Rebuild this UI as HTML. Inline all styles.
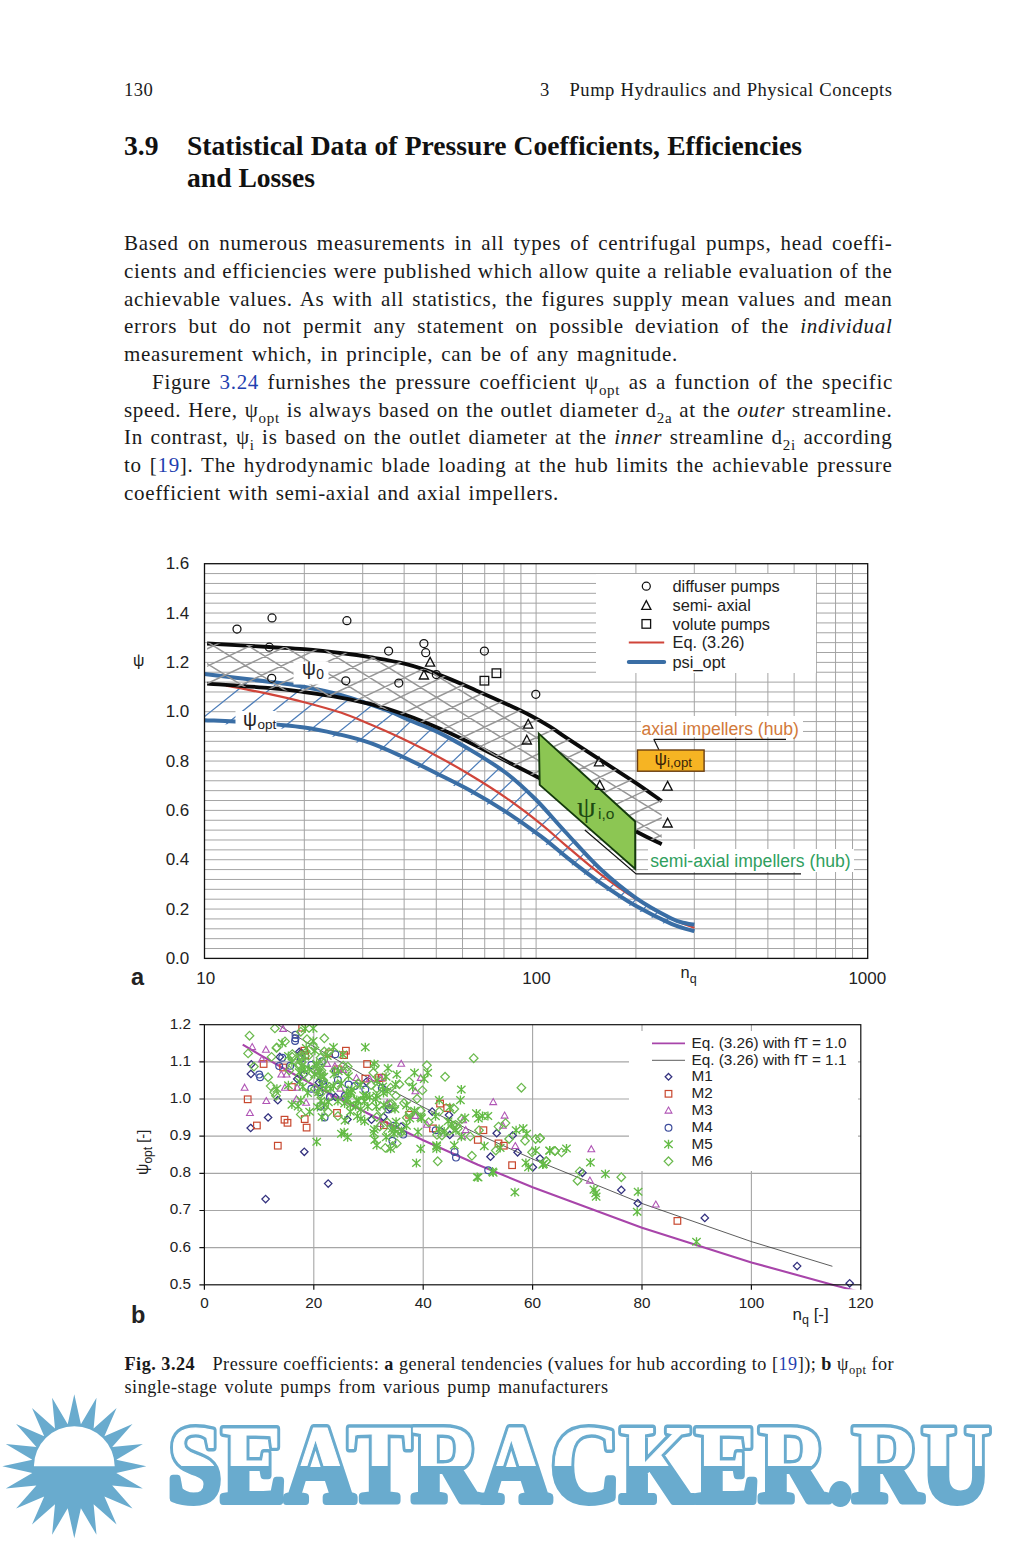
<!DOCTYPE html>
<html><head><meta charset="utf-8">
<style>
html,body{margin:0;padding:0;background:#fff;}
body{width:1018px;height:1541px;position:relative;overflow:hidden;font-family:"Liberation Serif",serif;color:#1a1a1a;}
.l{position:absolute;left:124px;width:768.5px;letter-spacing:0.7px;height:28px;line-height:28px;font-size:21px;white-space:nowrap;text-align:justify;text-align-last:justify;}
.l.n{text-align:left;text-align-last:left;}
.hd{position:absolute;letter-spacing:0.5px;font-size:18.6px;line-height:24px;white-space:nowrap;}
.h1{position:absolute;font-size:27.6px;font-weight:bold;line-height:32px;white-space:nowrap;color:#111;}
.cap{position:absolute;left:124.5px;letter-spacing:0.5px;font-size:18.2px;line-height:24px;white-space:nowrap;}
sub.s{font-size:15px;vertical-align:baseline;position:relative;top:5.5px;line-height:0;}
a.b{color:#1f3fb0;text-decoration:none;}
i{font-style:italic;}
svg{position:absolute;left:0;top:0;}
svg text{font-family:"Liberation Sans",sans-serif;}
</style></head><body>
<div class="hd" style="left:124px;top:78px;">130</div>
<div class="hd" style="left:540px;top:78px;">3</div>
<div class="hd" style="left:569.5px;top:78px;width:323px;text-align:justify;text-align-last:justify;">Pump Hydraulics and Physical Concepts</div>
<div class="h1" style="left:124px;top:130px;">3.9</div>
<div class="h1" style="left:187px;top:130px;width:615px;text-align:justify;text-align-last:justify;">Statistical Data of Pressure Coefficients, Efficiencies</div>
<div class="h1" style="left:187px;top:162px;">and Losses</div>

<div class="l" style="top:229px;">Based on numerous measurements in all types of centrifugal pumps, head coeffi-</div>
<div class="l" style="top:257px;">cients and efficiencies were published which allow quite a reliable evaluation of the</div>
<div class="l" style="top:285px;">achievable values. As with all statistics, the figures supply mean values and mean</div>
<div class="l" style="top:312px;">errors but do not permit any statement on possible deviation of the <i>individual</i></div>
<div class="l" style="top:340px;width:554px;">measurement which, in principle, can be of any magnitude.</div>
<div class="l" style="top:368px;left:152px;width:741px;">Figure <a class="b">3.24</a> furnishes the pressure coefficient ψ<sub class="s">opt</sub> as a function of the specific</div>
<div class="l" style="top:396px;">speed. Here, ψ<sub class="s">opt</sub> is always based on the outlet diameter d<sub class="s">2a</sub> at the <i>outer</i> streamline.</div>
<div class="l" style="top:423px;">In contrast, ψ<sub class="s">i</sub> is based on the outlet diameter at the <i>inner</i> streamline d<sub class="s">2i</sub> according</div>
<div class="l" style="top:451px;">to [<a class="b">19</a>]. The hydrodynamic blade loading at the hub limits the achievable pressure</div>
<div class="l" style="top:479px;width:435px;">coefficient with semi-axial and axial impellers.</div>

<svg width="1018" height="1541" viewBox="0 0 1018 1541">
<path d="M204.5,573.57H867.7M204.5,583.44H867.7M204.5,593.30H867.7M204.5,603.17H867.7M204.5,613.04H867.7M204.5,622.91H867.7M204.5,632.77H867.7M204.5,642.64H867.7M204.5,652.51H867.7M204.5,662.38H867.7M204.5,672.24H867.7M204.5,682.11H867.7M204.5,691.98H867.7M204.5,701.85H867.7M204.5,711.71H867.7M204.5,721.58H867.7M204.5,731.45H867.7M204.5,741.32H867.7M204.5,751.18H867.7M204.5,761.05H867.7M204.5,770.92H867.7M204.5,780.78H867.7M204.5,790.65H867.7M204.5,800.52H867.7M204.5,810.39H867.7M204.5,820.25H867.7M204.5,830.12H867.7M204.5,839.99H867.7M204.5,849.86H867.7M204.5,859.73H867.7M204.5,869.59H867.7M204.5,879.46H867.7M204.5,889.33H867.7M204.5,899.19H867.7M204.5,909.06H867.7M204.5,918.93H867.7M204.5,928.80H867.7M204.5,938.66H867.7M204.5,948.53H867.7M304.32,563.7V958.4M362.71,563.7V958.4M404.14,563.7V958.4M436.28,563.7V958.4M462.53,563.7V958.4M484.73,563.7V958.4M503.96,563.7V958.4M520.93,563.7V958.4M635.92,563.7V958.4M694.31,563.7V958.4M735.74,563.7V958.4M767.88,563.7V958.4M794.13,563.7V958.4M816.33,563.7V958.4M835.56,563.7V958.4M852.53,563.7V958.4M536.10,563.7V958.4" stroke="#a4a4a4" stroke-width="1" fill="none"/>
<defs><clipPath id="cb"><path d="M207.1,642.8 C217.4,643.4 252.8,645.3 269.0,646.3 C285.2,647.2 291.7,647.4 304.3,648.5 C316.9,649.6 333.8,651.5 344.7,652.8 C355.6,654.1 359.9,654.8 370.0,656.5 C380.1,658.2 393.6,660.2 405.4,663.2 C417.2,666.2 428.9,670.3 440.7,674.7 C452.5,679.1 464.3,684.5 476.1,689.7 C487.9,694.8 502.4,701.4 511.4,705.6 C520.4,709.7 523.6,711.2 530.0,714.6 C536.4,718.0 544.1,722.3 550.0,725.9 C555.9,729.5 556.9,730.8 565.4,736.4 C573.9,742.0 588.9,751.7 600.7,759.4 C612.5,767.1 625.9,775.6 636.1,782.4 C646.3,789.2 657.4,797.4 661.7,800.4 L661.7,844.9 L635.2,831.7 L580.0,801.2 L539.7,779.0 L511.4,764.5 L476.1,746.4 L440.7,729.7 L405.4,715.5 L370.0,704.6 L341.4,698.5 L304.3,692.8 L270.7,688.8 L207.1,684.3Z"/></clipPath>
<clipPath id="cbl"><path d="M204.4,673.9 C215.4,675.2 254.0,679.8 270.7,681.9 C287.3,684.0 292.5,684.6 304.3,686.8 C316.1,689.0 327.5,691.1 341.4,695.1 C355.3,699.1 376.5,706.6 387.7,710.7 C398.9,714.9 400.9,716.6 408.8,720.0 C416.8,723.4 425.1,725.9 435.4,730.9 C445.7,735.9 458.9,743.1 470.7,750.1 C482.5,757.1 495.3,764.9 506.1,773.0 C516.9,781.1 525.4,789.2 535.3,799.0 C545.2,808.8 554.5,820.3 565.4,832.0 C576.3,843.7 588.9,858.3 600.7,869.3 C612.5,880.3 624.3,889.9 636.1,898.1 C647.9,906.3 663.1,914.3 671.4,918.5 C679.6,922.7 681.8,922.3 685.6,923.3 C689.4,924.3 692.9,924.4 694.4,924.6 L692.9,934.2 L669.9,926.8 L634.6,909.1 L599.2,886.1 L566.5,861.3 L539.9,839.7 L504.6,814.9 L469.2,793.7 L433.9,775.7 L398.5,758.5 L368.5,745.8 L339.9,737.9 L302.8,730.5 L248.5,725.5 L204.5,723.2Z"/></clipPath></defs>
<g clip-path="url(#cbl)"><path d="M154.0,975.7L274.0,879.7M180.0,736.2L300.0,640.2M205.0,741.2L325.0,645.2M229.0,746.6L349.0,650.6M252.1,752.4L372.1,656.4M274.3,758.8L394.3,662.8M295.6,766.5L415.6,670.5M316.1,774.9L436.1,678.9M335.8,792.6L455.8,678.6M354.7,801.9L474.7,687.9M372.9,811.0L492.9,697.0M390.4,820.7L510.4,706.7M407.2,830.2L527.2,716.2M423.4,840.3L543.4,726.3M438.9,850.2L558.9,736.2M453.9,860.6L573.9,746.6M468.2,871.4L588.2,757.4M482.0,881.8L602.0,767.8M495.3,893.3L615.3,779.3M508.0,904.2L628.0,790.2M520.2,914.4L640.2,800.4M532.0,924.1L652.0,810.1M543.3,933.1L663.3,819.1M554.3,940.8L674.3,826.8M565.3,948.5L685.3,834.5M576.3,956.1L696.3,842.1M587.3,962.3L707.3,848.3M598.3,968.5L718.3,854.5M609.3,974.6L729.3,860.6" stroke="#4f7fba" stroke-width="1.25" fill="none"/></g>
<path d="M226.0,685.6 C228.3,686.0 232.6,686.8 240.0,688.2 C247.4,689.7 260.0,692.0 270.7,694.3 C281.4,696.6 292.5,699.1 304.3,702.2 C316.1,705.3 330.4,709.1 341.4,712.8 C352.3,716.5 360.2,720.1 370.0,724.2 C379.8,728.3 389.1,732.3 400.0,737.5 C410.9,742.7 423.6,748.9 435.4,755.2 C447.2,761.5 458.9,768.1 470.7,775.2 C482.5,782.3 494.3,789.6 506.1,797.8 C517.9,806.0 531.5,816.4 541.4,824.3 C551.3,832.2 555.5,836.8 565.4,845.1 C575.3,853.4 588.9,865.3 600.7,874.3 C612.5,883.3 624.3,891.6 636.1,899.0 C647.9,906.4 661.7,914.0 671.4,918.8 C681.1,923.6 690.6,926.2 694.4,927.7" stroke="#d0453a" stroke-width="2.2" fill="none"/>
<path d="M204.4,673.9 C215.4,675.2 254.0,679.8 270.7,681.9 C287.3,684.0 292.5,684.6 304.3,686.8 C316.1,689.0 327.5,691.1 341.4,695.1 C355.3,699.1 376.5,706.6 387.7,710.7 C398.9,714.9 400.9,716.6 408.8,720.0 C416.8,723.4 425.1,725.9 435.4,730.9 C445.7,735.9 458.9,743.1 470.7,750.1 C482.5,757.1 495.3,764.9 506.1,773.0 C516.9,781.1 525.4,789.2 535.3,799.0 C545.2,808.8 554.5,820.3 565.4,832.0 C576.3,843.7 588.9,858.3 600.7,869.3 C612.5,880.3 624.3,889.9 636.1,898.1 C647.9,906.3 663.1,914.3 671.4,918.5 C679.6,922.7 681.8,922.3 685.6,923.3 C689.4,924.3 692.9,924.4 694.4,924.6" stroke="#3a6ea5" stroke-width="4.0" fill="none"/>
<path d="M204.4,720.2 C212.0,720.6 233.3,721.3 250.0,722.5 C266.6,723.7 289.1,725.4 304.3,727.5 C319.5,729.6 330.4,732.4 341.4,734.9 C352.3,737.4 360.2,739.4 370.0,742.8 C379.8,746.2 389.1,750.5 400.0,755.5 C410.9,760.5 423.6,766.8 435.4,772.7 C447.2,778.6 458.9,784.2 470.7,790.7 C482.5,797.2 494.3,804.2 506.1,811.9 C517.9,819.6 531.1,829.0 541.4,836.7 C551.7,844.4 558.1,850.6 568.0,858.3 C577.9,866.0 589.4,875.1 600.7,883.1 C612.1,891.1 624.3,899.3 636.1,906.1 C647.9,912.9 661.7,919.6 671.4,923.8 C681.1,928.0 690.6,930.0 694.4,931.2" stroke="#3a6ea5" stroke-width="4.0" fill="none"/>
<path d="M207.1,683.6 C217.7,684.4 254.5,686.7 270.7,688.1 C286.9,689.5 292.5,690.5 304.3,692.1 C316.1,693.7 330.4,695.8 341.4,697.8 C352.3,699.8 359.3,701.1 370.0,703.9 C380.7,706.7 393.6,710.6 405.4,714.8 C417.2,719.0 428.9,723.9 440.7,729.0 C452.5,734.1 464.3,739.9 476.1,745.7 C487.9,751.5 500.8,758.4 511.4,763.8 C522.0,769.2 528.3,772.2 539.7,778.3 C551.1,784.4 564.1,791.7 580.0,800.5 C595.9,809.3 621.6,823.7 635.2,831.0 C648.8,838.3 657.3,842.0 661.7,844.2" stroke="#0a0a0a" stroke-width="3.8" fill="none"/>
<path d="M207.1,643.5 C217.4,644.1 252.8,646.0 269.0,647.0 C285.2,648.0 291.7,648.1 304.3,649.2 C316.9,650.3 333.8,652.2 344.7,653.5 C355.6,654.8 359.9,655.5 370.0,657.2 C380.1,658.9 393.6,660.9 405.4,663.9 C417.2,666.9 428.9,671.0 440.7,675.4 C452.5,679.8 464.3,685.2 476.1,690.4 C487.9,695.5 502.4,702.1 511.4,706.3 C520.4,710.4 523.6,711.9 530.0,715.3 C536.4,718.7 544.1,723.0 550.0,726.6 C555.9,730.2 556.9,731.5 565.4,737.1 C573.9,742.7 588.9,752.4 600.7,760.1 C612.5,767.8 625.9,776.3 636.1,783.1 C646.3,789.9 657.4,798.1 661.7,801.1" stroke="#0a0a0a" stroke-width="3.8" fill="none"/>
<g clip-path="url(#cb)"><path d="M-100.0,560.0L545.2,960.0M-65.0,560.0L580.2,960.0M-30.0,560.0L615.2,960.0M5.0,560.0L650.2,960.0M40.0,560.0L685.2,960.0M75.0,560.0L720.2,960.0M110.0,560.0L755.2,960.0M145.0,560.0L790.2,960.0M180.0,560.0L825.2,960.0M215.0,560.0L860.2,960.0M250.0,560.0L895.2,960.0M285.0,560.0L930.2,960.0M320.0,560.0L965.2,960.0M355.0,560.0L1000.2,960.0M390.0,560.0L1035.2,960.0M425.0,560.0L1070.2,960.0M460.0,560.0L1105.2,960.0M495.0,560.0L1140.2,960.0M530.0,560.0L1175.2,960.0M565.0,560.0L1210.2,960.0M600.0,560.0L1245.2,960.0M635.0,560.0L1280.2,960.0M670.0,560.0L1315.2,960.0M100.0,560.0L-751.1,960.0M137.0,560.0L-714.1,960.0M174.0,560.0L-677.1,960.0M211.0,560.0L-640.1,960.0M248.0,560.0L-603.1,960.0M285.0,560.0L-566.1,960.0M322.0,560.0L-529.1,960.0M359.0,560.0L-492.1,960.0M396.0,560.0L-455.1,960.0M433.0,560.0L-418.1,960.0M470.0,560.0L-381.1,960.0M507.0,560.0L-344.1,960.0M544.0,560.0L-307.1,960.0M581.0,560.0L-270.1,960.0M618.0,560.0L-233.1,960.0M655.0,560.0L-196.1,960.0M692.0,560.0L-159.1,960.0M729.0,560.0L-122.1,960.0M766.0,560.0L-85.1,960.0M803.0,560.0L-48.1,960.0M840.0,560.0L-11.1,960.0M877.0,560.0L25.9,960.0M914.0,560.0L62.9,960.0M951.0,560.0L99.9,960.0M988.0,560.0L136.9,960.0M1025.0,560.0L173.9,960.0M1062.0,560.0L210.9,960.0M1099.0,560.0L247.9,960.0M1136.0,560.0L284.9,960.0M1173.0,560.0L321.9,960.0M1210.0,560.0L358.9,960.0M1247.0,560.0L395.9,960.0M1284.0,560.0L432.9,960.0M1321.0,560.0L469.9,960.0M1358.0,560.0L506.9,960.0M1395.0,560.0L543.9,960.0M1432.0,560.0L580.9,960.0M1469.0,560.0L617.9,960.0" stroke="#979797" stroke-width="1.5" fill="none"/></g>
<path d="M538.8,733.6L635.2,821.5L635.2,869L539.7,784.9Z" fill="#8cc653" stroke="#143a0c" stroke-width="1.9" stroke-linejoin="miter"/>
<path d="M584.8,830L636.1,873.9H801" stroke="#111" stroke-width="1.2" fill="none"/>
<rect x="204.5" y="563.7" width="663.2" height="394.7" fill="none" stroke="#111" stroke-width="1.3"/>
<rect x="596" y="574" width="220" height="99" fill="#fff"/>
<rect x="293.5" y="661.5" width="35" height="23" fill="#fff"/>
<rect x="235.5" y="711" width="41" height="20" fill="#fff"/>
<rect x="641" y="716" width="162" height="21" fill="#fff"/>
<rect x="648" y="849" width="206" height="23" fill="#fff"/>
<path d="M653.8,739.2L659,750" stroke="#111" stroke-width="1.2"/>
<path d="M653.8,739.4H786" stroke="#111" stroke-width="1.2"/>
<rect x="637.5" y="750" width="66.6" height="21.2" fill="#f6b423" stroke="#6b3d10" stroke-width="1.4"/>
<circle cx="237.0" cy="629.0" r="4.0" fill="none" stroke="#111" stroke-width="1.25"/>
<circle cx="272.0" cy="617.9" r="4.0" fill="none" stroke="#111" stroke-width="1.25"/>
<circle cx="346.9" cy="620.7" r="4.0" fill="none" stroke="#111" stroke-width="1.25"/>
<circle cx="269.3" cy="647.2" r="4.0" fill="none" stroke="#111" stroke-width="1.25"/>
<circle cx="271.7" cy="678.3" r="4.0" fill="none" stroke="#111" stroke-width="1.25"/>
<circle cx="345.8" cy="680.8" r="4.0" fill="none" stroke="#111" stroke-width="1.25"/>
<circle cx="388.6" cy="651.0" r="4.0" fill="none" stroke="#111" stroke-width="1.25"/>
<circle cx="398.8" cy="683.0" r="4.0" fill="none" stroke="#111" stroke-width="1.25"/>
<circle cx="423.9" cy="643.5" r="4.0" fill="none" stroke="#111" stroke-width="1.25"/>
<circle cx="425.7" cy="652.7" r="4.0" fill="none" stroke="#111" stroke-width="1.25"/>
<circle cx="436.3" cy="674.5" r="4.0" fill="none" stroke="#111" stroke-width="1.25"/>
<circle cx="484.4" cy="651.0" r="4.0" fill="none" stroke="#111" stroke-width="1.25"/>
<circle cx="535.8" cy="694.3" r="4.0" fill="none" stroke="#111" stroke-width="1.25"/>
<path d="M430.1,657.4L434.7,666.2L425.5,666.2Z" fill="none" stroke="#111" stroke-width="1.3"/>
<path d="M423.9,670.2L428.5,679.0L419.3,679.0Z" fill="none" stroke="#111" stroke-width="1.3"/>
<path d="M528.2,719.3L532.8,728.1L523.6,728.1Z" fill="none" stroke="#111" stroke-width="1.3"/>
<path d="M526.8,735.2L531.4,744.0L522.2,744.0Z" fill="none" stroke="#111" stroke-width="1.3"/>
<path d="M599.0,757.0L603.6,765.8L594.4,765.8Z" fill="none" stroke="#111" stroke-width="1.3"/>
<path d="M599.8,780.5L604.4,789.3L595.2,789.3Z" fill="none" stroke="#111" stroke-width="1.3"/>
<path d="M667.6,781.4L672.2,790.2L663.0,790.2Z" fill="none" stroke="#111" stroke-width="1.3"/>
<path d="M667.6,818.2L672.2,827.0L663.0,827.0Z" fill="none" stroke="#111" stroke-width="1.3"/>
<rect x="492.1" y="668.9" width="8.6" height="8.6" fill="none" stroke="#111" stroke-width="1.3"/>
<rect x="480.1" y="676.4" width="8.6" height="8.6" fill="none" stroke="#111" stroke-width="1.3"/>
<circle cx="646.3" cy="586.2" r="4.0" fill="none" stroke="#111" stroke-width="1.25"/>
<path d="M646.3,600.6L650.9,609.4L641.7,609.4Z" fill="none" stroke="#111" stroke-width="1.3"/>
<rect x="642.0" y="619.6" width="8.6" height="8.6" fill="none" stroke="#111" stroke-width="1.3"/>
<path d="M628.8,642.6H664.2" stroke="#d0453a" stroke-width="2"/>
<path d="M628.8,662H664.2" stroke="#3a6ea5" stroke-width="4" stroke-linecap="round"/>
<text x="672.5" y="591.8" font-size="16.4" fill="#222">diffuser pumps</text>
<text x="672.5" y="610.8" font-size="16.4" fill="#222">semi- axial</text>
<text x="672.5" y="629.5" font-size="16.4" fill="#222">volute pumps</text>
<text x="672.5" y="648.2" font-size="16.4" fill="#222">Eq. (3.26)</text>
<text x="672.5" y="667.6" font-size="16.4" fill="#222">psi_opt</text>
<text x="189.3" y="569.3" font-size="17" text-anchor="end" fill="#222">1.6</text>
<text x="189.3" y="618.6" font-size="17" text-anchor="end" fill="#222">1.4</text>
<text x="189.3" y="668.0" font-size="17" text-anchor="end" fill="#222">1.2</text>
<text x="189.3" y="717.3" font-size="17" text-anchor="end" fill="#222">1.0</text>
<text x="189.3" y="766.6" font-size="17" text-anchor="end" fill="#222">0.8</text>
<text x="189.3" y="816.0" font-size="17" text-anchor="end" fill="#222">0.6</text>
<text x="189.3" y="865.3" font-size="17" text-anchor="end" fill="#222">0.4</text>
<text x="189.3" y="914.7" font-size="17" text-anchor="end" fill="#222">0.2</text>
<text x="189.3" y="964.0" font-size="17" text-anchor="end" fill="#222">0.0</text>
<text x="205.7" y="984.3" font-size="17" text-anchor="middle" fill="#222">10</text>
<text x="536.5" y="984.3" font-size="17" text-anchor="middle" fill="#222">100</text>
<text x="867.3" y="984.3" font-size="17" text-anchor="middle" fill="#222">1000</text>
<text x="133" y="666" font-size="16" fill="#222">ψ</text>
<text x="131" y="984.5" font-size="23.5" font-weight="bold" fill="#222">a</text>
<text x="680.5" y="978" font-size="16.4" fill="#222">n<tspan dy="5" font-size="12.5">q</tspan></text>
<text x="302" y="675.4" font-size="19.5" fill="#222">ψ<tspan dy="4" font-size="13.8" dx="0.3">0</tspan></text>
<text x="243" y="726.3" font-size="19.5" fill="#222">ψ<tspan dy="3" font-size="13.5" dx="0.5">opt</tspan></text>
<text x="641.5" y="735" font-size="17.6" fill="#d2793a">axial impellers (hub)</text>
<text x="650.2" y="866.5" font-size="17.6" fill="#2fa05e">semi-axial impellers (hub)</text>
<text x="654.5" y="764.5" font-size="17.5" fill="#3a2408">ψ<tspan dy="2.5" font-size="13.2">i,opt</tspan></text>
<text x="577" y="817" font-size="30" fill="#1d4a12" style="font-family:'Liberation Serif',serif">ψ</text>
<text x="598" y="819" font-size="15.5" fill="#1d4a12">i,o</text>
</svg>
<svg width="1018" height="1541" viewBox="0 0 1018 1541">
<path d="M204.4,1061.86H860.8M204.4,1099.01H860.8M204.4,1136.17H860.8M204.4,1173.33H860.8M204.4,1210.49H860.8M204.4,1247.64H860.8M313.80,1024.7V1284.8M423.20,1024.7V1284.8M532.60,1024.7V1284.8M642.00,1024.7V1284.8M751.40,1024.7V1284.8" stroke="#a6a6a6" stroke-width="1.1" fill="none"/>
<defs><clipPath id="cpb"><rect x="204.4" y="1024.2" width="659.4" height="265.1"/></clipPath></defs>
<rect x="629" y="1031" width="229" height="140" fill="#fff"/>
<g clip-path="url(#cpb)">
<polyline points="242.7,1002.0 259.1,1012.7 281.0,1026.6 313.8,1046.6 368.5,1078.0 423.2,1107.1 477.9,1134.1 532.6,1159.0 642.0,1203.5 751.4,1241.6 832.4,1266.3" fill="none" stroke="#333" stroke-width="0.8"/>
<polyline points="242.7,1044.6 259.1,1054.3 286.4,1070.0 313.8,1085.2 341.1,1099.7 368.5,1113.7 423.2,1140.2 477.9,1164.7 532.6,1187.3 642.0,1227.8 751.4,1262.4 832.4,1284.8 860.8,1292.1" fill="none" stroke="#a845aa" stroke-width="2.1" stroke-linejoin="round"/>
<path d="M251.3,1060.6l3.7,3.7l-3.7,3.7l-3.7,-3.7z" fill="none" stroke="#34327f" stroke-width="1.3"/>
<path d="M250.9,1070.2l3.7,3.7l-3.7,3.7l-3.7,-3.7z" fill="none" stroke="#34327f" stroke-width="1.3"/>
<path d="M268.1,1113.8l3.7,3.7l-3.7,3.7l-3.7,-3.7z" fill="none" stroke="#34327f" stroke-width="1.3"/>
<path d="M250.7,1124.3l3.7,3.7l-3.7,3.7l-3.7,-3.7z" fill="none" stroke="#34327f" stroke-width="1.3"/>
<path d="M304.3,1148.1l3.7,3.7l-3.7,3.7l-3.7,-3.7z" fill="none" stroke="#34327f" stroke-width="1.3"/>
<path d="M277.8,1096.5l3.7,3.7l-3.7,3.7l-3.7,-3.7z" fill="none" stroke="#34327f" stroke-width="1.3"/>
<path d="M297.2,1075.3l3.7,3.7l-3.7,3.7l-3.7,-3.7z" fill="none" stroke="#34327f" stroke-width="1.3"/>
<path d="M335.3,1093.3l3.7,3.7l-3.7,3.7l-3.7,-3.7z" fill="none" stroke="#34327f" stroke-width="1.3"/>
<path d="M371.5,1116.0l3.7,3.7l-3.7,3.7l-3.7,-3.7z" fill="none" stroke="#34327f" stroke-width="1.3"/>
<path d="M389.7,1104.4l3.7,3.7l-3.7,3.7l-3.7,-3.7z" fill="none" stroke="#34327f" stroke-width="1.3"/>
<path d="M383.5,1113.2l3.7,3.7l-3.7,3.7l-3.7,-3.7z" fill="none" stroke="#34327f" stroke-width="1.3"/>
<path d="M432.2,1107.9l3.7,3.7l-3.7,3.7l-3.7,-3.7z" fill="none" stroke="#34327f" stroke-width="1.3"/>
<path d="M449.0,1111.4l3.7,3.7l-3.7,3.7l-3.7,-3.7z" fill="none" stroke="#34327f" stroke-width="1.3"/>
<path d="M441.0,1127.4l3.7,3.7l-3.7,3.7l-3.7,-3.7z" fill="none" stroke="#34327f" stroke-width="1.3"/>
<path d="M449.8,1131.2l3.7,3.7l-3.7,3.7l-3.7,-3.7z" fill="none" stroke="#34327f" stroke-width="1.3"/>
<path d="M496.7,1129.5l3.7,3.7l-3.7,3.7l-3.7,-3.7z" fill="none" stroke="#34327f" stroke-width="1.3"/>
<path d="M512.6,1131.8l3.7,3.7l-3.7,3.7l-3.7,-3.7z" fill="none" stroke="#34327f" stroke-width="1.3"/>
<path d="M490.5,1153.0l3.7,3.7l-3.7,3.7l-3.7,-3.7z" fill="none" stroke="#34327f" stroke-width="1.3"/>
<path d="M517.6,1148.6l3.7,3.7l-3.7,3.7l-3.7,-3.7z" fill="none" stroke="#34327f" stroke-width="1.3"/>
<path d="M540.0,1154.8l3.7,3.7l-3.7,3.7l-3.7,-3.7z" fill="none" stroke="#34327f" stroke-width="1.3"/>
<path d="M532.9,1163.6l3.7,3.7l-3.7,3.7l-3.7,-3.7z" fill="none" stroke="#34327f" stroke-width="1.3"/>
<path d="M582.4,1169.1l3.7,3.7l-3.7,3.7l-3.7,-3.7z" fill="none" stroke="#34327f" stroke-width="1.3"/>
<path d="M621.3,1186.2l3.7,3.7l-3.7,3.7l-3.7,-3.7z" fill="none" stroke="#34327f" stroke-width="1.3"/>
<path d="M637.8,1199.5l3.7,3.7l-3.7,3.7l-3.7,-3.7z" fill="none" stroke="#34327f" stroke-width="1.3"/>
<path d="M704.8,1214.2l3.7,3.7l-3.7,3.7l-3.7,-3.7z" fill="none" stroke="#34327f" stroke-width="1.3"/>
<path d="M797.1,1262.4l3.7,3.7l-3.7,3.7l-3.7,-3.7z" fill="none" stroke="#34327f" stroke-width="1.3"/>
<path d="M849.7,1279.6l3.7,3.7l-3.7,3.7l-3.7,-3.7z" fill="none" stroke="#34327f" stroke-width="1.3"/>
<path d="M265.6,1195.4l3.7,3.7l-3.7,3.7l-3.7,-3.7z" fill="none" stroke="#34327f" stroke-width="1.3"/>
<path d="M328.2,1179.9l3.7,3.7l-3.7,3.7l-3.7,-3.7z" fill="none" stroke="#34327f" stroke-width="1.3"/>
<path d="M303.8,1070.7l3.7,3.7l-3.7,3.7l-3.7,-3.7z" fill="none" stroke="#34327f" stroke-width="1.3"/>
<path d="M299.2,1048.2l3.7,3.7l-3.7,3.7l-3.7,-3.7z" fill="none" stroke="#34327f" stroke-width="1.3"/>
<path d="M366.3,1078.1l3.7,3.7l-3.7,3.7l-3.7,-3.7z" fill="none" stroke="#34327f" stroke-width="1.3"/>
<path d="M301.3,1049.0l3.7,3.7l-3.7,3.7l-3.7,-3.7z" fill="none" stroke="#34327f" stroke-width="1.3"/>
<path d="M347.4,1115.8l3.7,3.7l-3.7,3.7l-3.7,-3.7z" fill="none" stroke="#34327f" stroke-width="1.3"/>
<path d="M318.9,1078.7l3.7,3.7l-3.7,3.7l-3.7,-3.7z" fill="none" stroke="#34327f" stroke-width="1.3"/>
<path d="M279.8,1053.2l3.7,3.7l-3.7,3.7l-3.7,-3.7z" fill="none" stroke="#34327f" stroke-width="1.3"/>
<path d="M401.1,1122.9l3.7,3.7l-3.7,3.7l-3.7,-3.7z" fill="none" stroke="#34327f" stroke-width="1.3"/>
<rect x="298.9" y="1024.4" width="6.6" height="6.6" fill="none" stroke="#c8482f" stroke-width="1.2"/>
<rect x="301.0" y="1047.4" width="6.6" height="6.6" fill="none" stroke="#c8482f" stroke-width="1.2"/>
<rect x="301.9" y="1051.8" width="6.6" height="6.6" fill="none" stroke="#c8482f" stroke-width="1.2"/>
<rect x="342.6" y="1047.4" width="6.6" height="6.6" fill="none" stroke="#c8482f" stroke-width="1.2"/>
<rect x="340.8" y="1051.8" width="6.6" height="6.6" fill="none" stroke="#c8482f" stroke-width="1.2"/>
<rect x="325.8" y="1050.1" width="6.6" height="6.6" fill="none" stroke="#c8482f" stroke-width="1.2"/>
<rect x="363.8" y="1060.7" width="6.6" height="6.6" fill="none" stroke="#c8482f" stroke-width="1.2"/>
<rect x="362.0" y="1075.3" width="6.6" height="6.6" fill="none" stroke="#c8482f" stroke-width="1.2"/>
<rect x="334.6" y="1066.0" width="6.6" height="6.6" fill="none" stroke="#c8482f" stroke-width="1.2"/>
<rect x="260.3" y="1060.7" width="6.6" height="6.6" fill="none" stroke="#c8482f" stroke-width="1.2"/>
<rect x="244.4" y="1096.0" width="6.6" height="6.6" fill="none" stroke="#c8482f" stroke-width="1.2"/>
<rect x="253.6" y="1122.2" width="6.6" height="6.6" fill="none" stroke="#c8482f" stroke-width="1.2"/>
<rect x="281.2" y="1116.4" width="6.6" height="6.6" fill="none" stroke="#c8482f" stroke-width="1.2"/>
<rect x="284.2" y="1119.5" width="6.6" height="6.6" fill="none" stroke="#c8482f" stroke-width="1.2"/>
<rect x="301.4" y="1115.8" width="6.6" height="6.6" fill="none" stroke="#c8482f" stroke-width="1.2"/>
<rect x="303.3" y="1124.3" width="6.6" height="6.6" fill="none" stroke="#c8482f" stroke-width="1.2"/>
<rect x="274.5" y="1142.4" width="6.6" height="6.6" fill="none" stroke="#c8482f" stroke-width="1.2"/>
<rect x="333.7" y="1109.6" width="6.6" height="6.6" fill="none" stroke="#c8482f" stroke-width="1.2"/>
<rect x="288.6" y="1083.7" width="6.6" height="6.6" fill="none" stroke="#c8482f" stroke-width="1.2"/>
<rect x="279.8" y="1064.2" width="6.6" height="6.6" fill="none" stroke="#c8482f" stroke-width="1.2"/>
<rect x="375.3" y="1074.8" width="6.6" height="6.6" fill="none" stroke="#c8482f" stroke-width="1.2"/>
<rect x="378.5" y="1074.4" width="6.6" height="6.6" fill="none" stroke="#c8482f" stroke-width="1.2"/>
<rect x="436.8" y="1100.3" width="6.6" height="6.6" fill="none" stroke="#c8482f" stroke-width="1.2"/>
<rect x="443.9" y="1104.8" width="6.6" height="6.6" fill="none" stroke="#c8482f" stroke-width="1.2"/>
<rect x="405.9" y="1111.5" width="6.6" height="6.6" fill="none" stroke="#c8482f" stroke-width="1.2"/>
<rect x="380.6" y="1121.9" width="6.6" height="6.6" fill="none" stroke="#c8482f" stroke-width="1.2"/>
<rect x="429.7" y="1125.1" width="6.6" height="6.6" fill="none" stroke="#c8482f" stroke-width="1.2"/>
<rect x="480.1" y="1126.9" width="6.6" height="6.6" fill="none" stroke="#c8482f" stroke-width="1.2"/>
<rect x="474.5" y="1136.6" width="6.6" height="6.6" fill="none" stroke="#c8482f" stroke-width="1.2"/>
<rect x="495.2" y="1140.1" width="6.6" height="6.6" fill="none" stroke="#c8482f" stroke-width="1.2"/>
<rect x="500.5" y="1142.4" width="6.6" height="6.6" fill="none" stroke="#c8482f" stroke-width="1.2"/>
<rect x="508.8" y="1161.9" width="6.6" height="6.6" fill="none" stroke="#c8482f" stroke-width="1.2"/>
<rect x="674.1" y="1217.6" width="6.6" height="6.6" fill="none" stroke="#c8482f" stroke-width="1.2"/>
<path d="M283.1,1025.4l3.4,6.0h-6.8z" fill="none" stroke="#b055b5" stroke-width="1.1"/>
<path d="M252.2,1043.6l3.4,6.0h-6.8z" fill="none" stroke="#b055b5" stroke-width="1.1"/>
<path d="M265.9,1046.2l3.4,6.0h-6.8z" fill="none" stroke="#b055b5" stroke-width="1.1"/>
<path d="M261.9,1055.9l3.4,6.0h-6.8z" fill="none" stroke="#b055b5" stroke-width="1.1"/>
<path d="M244.6,1084.2l3.4,6.0h-6.8z" fill="none" stroke="#b055b5" stroke-width="1.1"/>
<path d="M266.3,1097.5l3.4,6.0h-6.8z" fill="none" stroke="#b055b5" stroke-width="1.1"/>
<path d="M249.9,1109.5l3.4,6.0h-6.8z" fill="none" stroke="#b055b5" stroke-width="1.1"/>
<path d="M306.1,1099.3l3.4,6.0h-6.8z" fill="none" stroke="#b055b5" stroke-width="1.1"/>
<path d="M297.2,1084.2l3.4,6.0h-6.8z" fill="none" stroke="#b055b5" stroke-width="1.1"/>
<path d="M284.9,1084.2l3.4,6.0h-6.8z" fill="none" stroke="#b055b5" stroke-width="1.1"/>
<path d="M327.3,1060.4l3.4,6.0h-6.8z" fill="none" stroke="#b055b5" stroke-width="1.1"/>
<path d="M356.5,1074.5l3.4,6.0h-6.8z" fill="none" stroke="#b055b5" stroke-width="1.1"/>
<path d="M369.7,1075.4l3.4,6.0h-6.8z" fill="none" stroke="#b055b5" stroke-width="1.1"/>
<path d="M329.1,1093.1l3.4,6.0h-6.8z" fill="none" stroke="#b055b5" stroke-width="1.1"/>
<path d="M286.6,1071.0l3.4,6.0h-6.8z" fill="none" stroke="#b055b5" stroke-width="1.1"/>
<path d="M281.3,1071.0l3.4,6.0h-6.8z" fill="none" stroke="#b055b5" stroke-width="1.1"/>
<path d="M296.4,1095.7l3.4,6.0h-6.8z" fill="none" stroke="#b055b5" stroke-width="1.1"/>
<path d="M340.6,1085.1l3.4,6.0h-6.8z" fill="none" stroke="#b055b5" stroke-width="1.1"/>
<path d="M380.0,1120.5l3.4,6.0h-6.8z" fill="none" stroke="#b055b5" stroke-width="1.1"/>
<path d="M401.2,1060.3l3.4,6.0h-6.8z" fill="none" stroke="#b055b5" stroke-width="1.1"/>
<path d="M420.7,1074.4l3.4,6.0h-6.8z" fill="none" stroke="#b055b5" stroke-width="1.1"/>
<path d="M415.4,1087.7l3.4,6.0h-6.8z" fill="none" stroke="#b055b5" stroke-width="1.1"/>
<path d="M380.9,1074.4l3.4,6.0h-6.8z" fill="none" stroke="#b055b5" stroke-width="1.1"/>
<path d="M493.2,1098.6l3.4,6.0h-6.8z" fill="none" stroke="#b055b5" stroke-width="1.1"/>
<path d="M504.6,1112.1l3.4,6.0h-6.8z" fill="none" stroke="#b055b5" stroke-width="1.1"/>
<path d="M463.1,1116.8l3.4,6.0h-6.8z" fill="none" stroke="#b055b5" stroke-width="1.1"/>
<path d="M502.9,1122.1l3.4,6.0h-6.8z" fill="none" stroke="#b055b5" stroke-width="1.1"/>
<path d="M426.9,1121.3l3.4,6.0h-6.8z" fill="none" stroke="#b055b5" stroke-width="1.1"/>
<path d="M465.7,1126.6l3.4,6.0h-6.8z" fill="none" stroke="#b055b5" stroke-width="1.1"/>
<path d="M462.2,1132.8l3.4,6.0h-6.8z" fill="none" stroke="#b055b5" stroke-width="1.1"/>
<path d="M515.3,1142.5l3.4,6.0h-6.8z" fill="none" stroke="#b055b5" stroke-width="1.1"/>
<path d="M415.4,1112.4l3.4,6.0h-6.8z" fill="none" stroke="#b055b5" stroke-width="1.1"/>
<path d="M591.3,1145.7l3.4,6.0h-6.8z" fill="none" stroke="#b055b5" stroke-width="1.1"/>
<path d="M589.9,1177.1l3.4,6.0h-6.8z" fill="none" stroke="#b055b5" stroke-width="1.1"/>
<path d="M655.8,1201.0l3.4,6.0h-6.8z" fill="none" stroke="#b055b5" stroke-width="1.1"/>
<path d="M387.3,1099.5l3.4,6.0h-6.8z" fill="none" stroke="#b055b5" stroke-width="1.1"/>
<path d="M334.9,1062.7l3.4,6.0h-6.8z" fill="none" stroke="#b055b5" stroke-width="1.1"/>
<path d="M343.8,1091.3l3.4,6.0h-6.8z" fill="none" stroke="#b055b5" stroke-width="1.1"/>
<path d="M343.1,1066.4l3.4,6.0h-6.8z" fill="none" stroke="#b055b5" stroke-width="1.1"/>
<path d="M317.4,1066.8l3.4,6.0h-6.8z" fill="none" stroke="#b055b5" stroke-width="1.1"/>
<circle cx="295.5" cy="1034.8" r="3.4" fill="none" stroke="#3c4c9c" stroke-width="1.2"/>
<circle cx="295.5" cy="1038.3" r="3.4" fill="none" stroke="#3c4c9c" stroke-width="1.2"/>
<circle cx="295.1" cy="1041.0" r="3.4" fill="none" stroke="#3c4c9c" stroke-width="1.2"/>
<circle cx="282.2" cy="1057.8" r="3.4" fill="none" stroke="#3c4c9c" stroke-width="1.2"/>
<circle cx="279.2" cy="1066.1" r="3.4" fill="none" stroke="#3c4c9c" stroke-width="1.2"/>
<circle cx="259.2" cy="1074.6" r="3.4" fill="none" stroke="#3c4c9c" stroke-width="1.2"/>
<circle cx="260.1" cy="1077.2" r="3.4" fill="none" stroke="#3c4c9c" stroke-width="1.2"/>
<circle cx="335.3" cy="1054.2" r="3.4" fill="none" stroke="#3c4c9c" stroke-width="1.2"/>
<circle cx="300.8" cy="1058.7" r="3.4" fill="none" stroke="#3c4c9c" stroke-width="1.2"/>
<circle cx="311.4" cy="1064.9" r="3.4" fill="none" stroke="#3c4c9c" stroke-width="1.2"/>
<circle cx="322.0" cy="1061.3" r="3.4" fill="none" stroke="#3c4c9c" stroke-width="1.2"/>
<circle cx="311.4" cy="1088.7" r="3.4" fill="none" stroke="#3c4c9c" stroke-width="1.2"/>
<circle cx="320.2" cy="1106.4" r="3.4" fill="none" stroke="#3c4c9c" stroke-width="1.2"/>
<circle cx="324.6" cy="1117.5" r="3.4" fill="none" stroke="#3c4c9c" stroke-width="1.2"/>
<circle cx="345.0" cy="1095.8" r="3.4" fill="none" stroke="#3c4c9c" stroke-width="1.2"/>
<circle cx="365.3" cy="1089.6" r="3.4" fill="none" stroke="#3c4c9c" stroke-width="1.2"/>
<circle cx="354.7" cy="1086.1" r="3.4" fill="none" stroke="#3c4c9c" stroke-width="1.2"/>
<circle cx="290.2" cy="1065.7" r="3.4" fill="none" stroke="#3c4c9c" stroke-width="1.2"/>
<circle cx="337.9" cy="1079.9" r="3.4" fill="none" stroke="#3c4c9c" stroke-width="1.2"/>
<circle cx="381.8" cy="1087.7" r="3.4" fill="none" stroke="#3c4c9c" stroke-width="1.2"/>
<circle cx="403.3" cy="1134.6" r="3.4" fill="none" stroke="#3c4c9c" stroke-width="1.2"/>
<circle cx="435.7" cy="1130.2" r="3.4" fill="none" stroke="#3c4c9c" stroke-width="1.2"/>
<circle cx="454.6" cy="1151.9" r="3.4" fill="none" stroke="#3c4c9c" stroke-width="1.2"/>
<circle cx="456.0" cy="1157.6" r="3.4" fill="none" stroke="#3c4c9c" stroke-width="1.2"/>
<circle cx="488.2" cy="1170.3" r="3.4" fill="none" stroke="#3c4c9c" stroke-width="1.2"/>
<circle cx="392.4" cy="1140.8" r="3.4" fill="none" stroke="#3c4c9c" stroke-width="1.2"/>
<circle cx="393.3" cy="1125.8" r="3.4" fill="none" stroke="#3c4c9c" stroke-width="1.2"/>
<circle cx="335.9" cy="1071.4" r="3.4" fill="none" stroke="#3c4c9c" stroke-width="1.2"/>
<circle cx="319.7" cy="1092.2" r="3.4" fill="none" stroke="#3c4c9c" stroke-width="1.2"/>
<circle cx="322.8" cy="1081.0" r="3.4" fill="none" stroke="#3c4c9c" stroke-width="1.2"/>
<circle cx="348.6" cy="1084.5" r="3.4" fill="none" stroke="#3c4c9c" stroke-width="1.2"/>
<circle cx="323.3" cy="1084.3" r="3.4" fill="none" stroke="#3c4c9c" stroke-width="1.2"/>
<circle cx="388.4" cy="1109.5" r="3.4" fill="none" stroke="#3c4c9c" stroke-width="1.2"/>
<circle cx="329.9" cy="1096.9" r="3.4" fill="none" stroke="#3c4c9c" stroke-width="1.2"/>
<path d="M305.2,1024.1v9M301.0,1024.8l8.4,7.6M301.0,1032.4l8.4,-7.6" fill="none" stroke="#63bb45" stroke-width="1.35"/>
<path d="M282.2,1038.6v9M278.0,1039.3l8.4,7.6M278.0,1046.9l8.4,-7.6" fill="none" stroke="#63bb45" stroke-width="1.35"/>
<path d="M365.3,1042.7v9M361.1,1043.4l8.4,7.6M361.1,1051.0l8.4,-7.6" fill="none" stroke="#63bb45" stroke-width="1.35"/>
<path d="M333.5,1042.7v9M329.3,1043.4l8.4,7.6M329.3,1051.0l8.4,-7.6" fill="none" stroke="#63bb45" stroke-width="1.35"/>
<path d="M313.2,1036.5v9M309.0,1037.2l8.4,7.6M309.0,1044.8l8.4,-7.6" fill="none" stroke="#63bb45" stroke-width="1.35"/>
<path d="M314.9,1046.2v9M310.7,1046.9l8.4,7.6M310.7,1054.5l8.4,-7.6" fill="none" stroke="#63bb45" stroke-width="1.35"/>
<path d="M288.4,1051.5v9M284.2,1052.2l8.4,7.6M284.2,1059.8l8.4,-7.6" fill="none" stroke="#63bb45" stroke-width="1.35"/>
<path d="M327.3,1051.5v9M323.1,1052.2l8.4,7.6M323.1,1059.8l8.4,-7.6" fill="none" stroke="#63bb45" stroke-width="1.35"/>
<path d="M301.7,1061.2v9M297.5,1061.9l8.4,7.6M297.5,1069.5l8.4,-7.6" fill="none" stroke="#63bb45" stroke-width="1.35"/>
<path d="M304.3,1064.8v9M300.1,1065.5l8.4,7.6M300.1,1073.1l8.4,-7.6" fill="none" stroke="#63bb45" stroke-width="1.35"/>
<path d="M291.9,1057.7v9M287.7,1058.4l8.4,7.6M287.7,1066.0l8.4,-7.6" fill="none" stroke="#63bb45" stroke-width="1.35"/>
<path d="M316.7,1061.2v9M312.5,1061.9l8.4,7.6M312.5,1069.5l8.4,-7.6" fill="none" stroke="#63bb45" stroke-width="1.35"/>
<path d="M322.0,1080.7v9M317.8,1081.4l8.4,7.6M317.8,1089.0l8.4,-7.6" fill="none" stroke="#63bb45" stroke-width="1.35"/>
<path d="M318.5,1087.8v9M314.3,1088.5l8.4,7.6M314.3,1096.1l8.4,-7.6" fill="none" stroke="#63bb45" stroke-width="1.35"/>
<path d="M288.4,1080.7v9M284.2,1081.4l8.4,7.6M284.2,1089.0l8.4,-7.6" fill="none" stroke="#63bb45" stroke-width="1.35"/>
<path d="M276.9,1084.2v9M272.7,1084.9l8.4,7.6M272.7,1092.5l8.4,-7.6" fill="none" stroke="#63bb45" stroke-width="1.35"/>
<path d="M291.9,1100.1v9M287.7,1100.8l8.4,7.6M287.7,1108.4l8.4,-7.6" fill="none" stroke="#63bb45" stroke-width="1.35"/>
<path d="M298.1,1101.9v9M293.9,1102.6l8.4,7.6M293.9,1110.2l8.4,-7.6" fill="none" stroke="#63bb45" stroke-width="1.35"/>
<path d="M300.8,1095.7v9M296.6,1096.4l8.4,7.6M296.6,1104.0l8.4,-7.6" fill="none" stroke="#63bb45" stroke-width="1.35"/>
<path d="M309.6,1107.2v9M305.4,1107.9l8.4,7.6M305.4,1115.5l8.4,-7.6" fill="none" stroke="#63bb45" stroke-width="1.35"/>
<path d="M322.0,1112.5v9M317.8,1113.2l8.4,7.6M317.8,1120.8l8.4,-7.6" fill="none" stroke="#63bb45" stroke-width="1.35"/>
<path d="M324.6,1100.1v9M320.4,1100.8l8.4,7.6M320.4,1108.4l8.4,-7.6" fill="none" stroke="#63bb45" stroke-width="1.35"/>
<path d="M316.7,1137.3v9M312.5,1138.0l8.4,7.6M312.5,1145.6l8.4,-7.6" fill="none" stroke="#63bb45" stroke-width="1.35"/>
<path d="M341.4,1129.3v9M337.2,1130.0l8.4,7.6M337.2,1137.6l8.4,-7.6" fill="none" stroke="#63bb45" stroke-width="1.35"/>
<path d="M347.6,1132.8v9M343.4,1133.5l8.4,7.6M343.4,1141.1l8.4,-7.6" fill="none" stroke="#63bb45" stroke-width="1.35"/>
<path d="M376.8,1140.8v9M372.6,1141.5l8.4,7.6M372.6,1149.1l8.4,-7.6" fill="none" stroke="#63bb45" stroke-width="1.35"/>
<path d="M345.0,1116.0v9M340.8,1116.7l8.4,7.6M340.8,1124.3l8.4,-7.6" fill="none" stroke="#63bb45" stroke-width="1.35"/>
<path d="M350.3,1107.2v9M346.1,1107.9l8.4,7.6M346.1,1115.5l8.4,-7.6" fill="none" stroke="#63bb45" stroke-width="1.35"/>
<path d="M357.4,1111.6v9M353.2,1112.3l8.4,7.6M353.2,1119.9l8.4,-7.6" fill="none" stroke="#63bb45" stroke-width="1.35"/>
<path d="M360.9,1114.3v9M356.7,1115.0l8.4,7.6M356.7,1122.6l8.4,-7.6" fill="none" stroke="#63bb45" stroke-width="1.35"/>
<path d="M364.4,1096.6v9M360.2,1097.3l8.4,7.6M360.2,1104.9l8.4,-7.6" fill="none" stroke="#63bb45" stroke-width="1.35"/>
<path d="M366.2,1091.3v9M362.0,1092.0l8.4,7.6M362.0,1099.6l8.4,-7.6" fill="none" stroke="#63bb45" stroke-width="1.35"/>
<path d="M374.2,1059.5v9M370.0,1060.2l8.4,7.6M370.0,1067.8l8.4,-7.6" fill="none" stroke="#63bb45" stroke-width="1.35"/>
<path d="M376.8,1091.3v9M372.6,1092.0l8.4,7.6M372.6,1099.6l8.4,-7.6" fill="none" stroke="#63bb45" stroke-width="1.35"/>
<path d="M374.2,1124.9v9M370.0,1125.6l8.4,7.6M370.0,1133.2l8.4,-7.6" fill="none" stroke="#63bb45" stroke-width="1.35"/>
<path d="M337.9,1096.6v9M333.7,1097.3l8.4,7.6M333.7,1104.9l8.4,-7.6" fill="none" stroke="#63bb45" stroke-width="1.35"/>
<path d="M330.8,1084.2v9M326.6,1084.9l8.4,7.6M326.6,1092.5l8.4,-7.6" fill="none" stroke="#63bb45" stroke-width="1.35"/>
<path d="M341.4,1078.9v9M337.2,1079.6l8.4,7.6M337.2,1087.2l8.4,-7.6" fill="none" stroke="#63bb45" stroke-width="1.35"/>
<path d="M348.5,1071.8v9M344.3,1072.5l8.4,7.6M344.3,1080.1l8.4,-7.6" fill="none" stroke="#63bb45" stroke-width="1.35"/>
<path d="M388.0,1063.8v9M383.8,1064.5l8.4,7.6M383.8,1072.1l8.4,-7.6" fill="none" stroke="#63bb45" stroke-width="1.35"/>
<path d="M396.8,1070.0v9M392.6,1070.7l8.4,7.6M392.6,1078.3l8.4,-7.6" fill="none" stroke="#63bb45" stroke-width="1.35"/>
<path d="M414.5,1068.2v9M410.3,1068.9l8.4,7.6M410.3,1076.5l8.4,-7.6" fill="none" stroke="#63bb45" stroke-width="1.35"/>
<path d="M427.7,1068.2v9M423.5,1068.9l8.4,7.6M423.5,1076.5l8.4,-7.6" fill="none" stroke="#63bb45" stroke-width="1.35"/>
<path d="M412.7,1082.4v9M408.5,1083.1l8.4,7.6M408.5,1090.7l8.4,-7.6" fill="none" stroke="#63bb45" stroke-width="1.35"/>
<path d="M424.2,1074.4v9M420.0,1075.1l8.4,7.6M420.0,1082.7l8.4,-7.6" fill="none" stroke="#63bb45" stroke-width="1.35"/>
<path d="M461.3,1085.0v9M457.1,1085.7l8.4,7.6M457.1,1093.3l8.4,-7.6" fill="none" stroke="#63bb45" stroke-width="1.35"/>
<path d="M460.4,1095.6v9M456.2,1096.3l8.4,7.6M456.2,1103.9l8.4,-7.6" fill="none" stroke="#63bb45" stroke-width="1.35"/>
<path d="M439.2,1095.6v9M435.0,1096.3l8.4,7.6M435.0,1103.9l8.4,-7.6" fill="none" stroke="#63bb45" stroke-width="1.35"/>
<path d="M449.8,1102.7v9M445.6,1103.4l8.4,7.6M445.6,1111.0l8.4,-7.6" fill="none" stroke="#63bb45" stroke-width="1.35"/>
<path d="M406.5,1100.9v9M402.3,1101.6l8.4,7.6M402.3,1109.2l8.4,-7.6" fill="none" stroke="#63bb45" stroke-width="1.35"/>
<path d="M414.5,1106.2v9M410.3,1106.9l8.4,7.6M410.3,1114.5l8.4,-7.6" fill="none" stroke="#63bb45" stroke-width="1.35"/>
<path d="M395.0,1104.5v9M390.8,1105.2l8.4,7.6M390.8,1112.8l8.4,-7.6" fill="none" stroke="#63bb45" stroke-width="1.35"/>
<path d="M464.9,1113.3v9M460.7,1114.0l8.4,7.6M460.7,1121.6l8.4,-7.6" fill="none" stroke="#63bb45" stroke-width="1.35"/>
<path d="M476.4,1108.9v9M472.2,1109.6l8.4,7.6M472.2,1117.2l8.4,-7.6" fill="none" stroke="#63bb45" stroke-width="1.35"/>
<path d="M482.5,1111.5v9M478.3,1112.2l8.4,7.6M478.3,1119.8l8.4,-7.6" fill="none" stroke="#63bb45" stroke-width="1.35"/>
<path d="M487.9,1111.5v9M483.7,1112.2l8.4,7.6M483.7,1119.8l8.4,-7.6" fill="none" stroke="#63bb45" stroke-width="1.35"/>
<path d="M448.1,1116.8v9M443.9,1117.5l8.4,7.6M443.9,1125.1l8.4,-7.6" fill="none" stroke="#63bb45" stroke-width="1.35"/>
<path d="M451.6,1119.5v9M447.4,1120.2l8.4,7.6M447.4,1127.8l8.4,-7.6" fill="none" stroke="#63bb45" stroke-width="1.35"/>
<path d="M456.0,1125.7v9M451.8,1126.4l8.4,7.6M451.8,1134.0l8.4,-7.6" fill="none" stroke="#63bb45" stroke-width="1.35"/>
<path d="M406.5,1121.2v9M402.3,1121.9l8.4,7.6M402.3,1129.5l8.4,-7.6" fill="none" stroke="#63bb45" stroke-width="1.35"/>
<path d="M418.0,1127.4v9M413.8,1128.1l8.4,7.6M413.8,1135.7l8.4,-7.6" fill="none" stroke="#63bb45" stroke-width="1.35"/>
<path d="M395.0,1124.8v9M390.8,1125.5l8.4,7.6M390.8,1133.1l8.4,-7.6" fill="none" stroke="#63bb45" stroke-width="1.35"/>
<path d="M386.2,1132.7v9M382.0,1133.4l8.4,7.6M382.0,1141.0l8.4,-7.6" fill="none" stroke="#63bb45" stroke-width="1.35"/>
<path d="M420.7,1144.2v9M416.5,1144.9l8.4,7.6M416.5,1152.5l8.4,-7.6" fill="none" stroke="#63bb45" stroke-width="1.35"/>
<path d="M436.6,1144.2v9M432.4,1144.9l8.4,7.6M432.4,1152.5l8.4,-7.6" fill="none" stroke="#63bb45" stroke-width="1.35"/>
<path d="M454.3,1140.7v9M450.1,1141.4l8.4,7.6M450.1,1149.0l8.4,-7.6" fill="none" stroke="#63bb45" stroke-width="1.35"/>
<path d="M484.3,1141.6v9M480.1,1142.3l8.4,7.6M480.1,1149.9l8.4,-7.6" fill="none" stroke="#63bb45" stroke-width="1.35"/>
<path d="M500.2,1143.4v9M496.0,1144.1l8.4,7.6M496.0,1151.7l8.4,-7.6" fill="none" stroke="#63bb45" stroke-width="1.35"/>
<path d="M516.1,1125.7v9M511.9,1126.4l8.4,7.6M511.9,1134.0l8.4,-7.6" fill="none" stroke="#63bb45" stroke-width="1.35"/>
<path d="M523.2,1123.9v9M519.0,1124.6l8.4,7.6M519.0,1132.2l8.4,-7.6" fill="none" stroke="#63bb45" stroke-width="1.35"/>
<path d="M526.7,1129.2v9M522.5,1129.9l8.4,7.6M522.5,1137.5l8.4,-7.6" fill="none" stroke="#63bb45" stroke-width="1.35"/>
<path d="M535.6,1146.0v9M531.4,1146.7l8.4,7.6M531.4,1154.3l8.4,-7.6" fill="none" stroke="#63bb45" stroke-width="1.35"/>
<path d="M549.7,1146.0v9M545.5,1146.7l8.4,7.6M545.5,1154.3l8.4,-7.6" fill="none" stroke="#63bb45" stroke-width="1.35"/>
<path d="M525.9,1158.4v9M521.7,1159.1l8.4,7.6M521.7,1166.7l8.4,-7.6" fill="none" stroke="#63bb45" stroke-width="1.35"/>
<path d="M528.5,1162.8v9M524.3,1163.5l8.4,7.6M524.3,1171.1l8.4,-7.6" fill="none" stroke="#63bb45" stroke-width="1.35"/>
<path d="M542.7,1160.1v9M538.5,1160.8l8.4,7.6M538.5,1168.4l8.4,-7.6" fill="none" stroke="#63bb45" stroke-width="1.35"/>
<path d="M493.2,1168.1v9M489.0,1168.8l8.4,7.6M489.0,1176.4l8.4,-7.6" fill="none" stroke="#63bb45" stroke-width="1.35"/>
<path d="M477.2,1172.5v9M473.0,1173.2l8.4,7.6M473.0,1180.8l8.4,-7.6" fill="none" stroke="#63bb45" stroke-width="1.35"/>
<path d="M390.6,1144.2v9M386.4,1144.9l8.4,7.6M386.4,1152.5l8.4,-7.6" fill="none" stroke="#63bb45" stroke-width="1.35"/>
<path d="M383.5,1088.5v9M379.3,1089.2l8.4,7.6M379.3,1096.8l8.4,-7.6" fill="none" stroke="#63bb45" stroke-width="1.35"/>
<path d="M387.1,1086.8v9M382.9,1087.5l8.4,7.6M382.9,1095.1l8.4,-7.6" fill="none" stroke="#63bb45" stroke-width="1.35"/>
<path d="M549.7,1146.2v9M545.5,1146.9l8.4,7.6M545.5,1154.5l8.4,-7.6" fill="none" stroke="#63bb45" stroke-width="1.35"/>
<path d="M566.5,1144.0v9M562.3,1144.7l8.4,7.6M562.3,1152.3l8.4,-7.6" fill="none" stroke="#63bb45" stroke-width="1.35"/>
<path d="M543.5,1159.4v9M539.3,1160.1l8.4,7.6M539.3,1167.7l8.4,-7.6" fill="none" stroke="#63bb45" stroke-width="1.35"/>
<path d="M590.4,1158.0v9M586.2,1158.7l8.4,7.6M586.2,1166.3l8.4,-7.6" fill="none" stroke="#63bb45" stroke-width="1.35"/>
<path d="M605.4,1169.5v9M601.2,1170.2l8.4,7.6M601.2,1177.8l8.4,-7.6" fill="none" stroke="#63bb45" stroke-width="1.35"/>
<path d="M593.9,1185.1v9M589.7,1185.8l8.4,7.6M589.7,1193.4l8.4,-7.6" fill="none" stroke="#63bb45" stroke-width="1.35"/>
<path d="M595.7,1188.6v9M591.5,1189.3l8.4,7.6M591.5,1196.9l8.4,-7.6" fill="none" stroke="#63bb45" stroke-width="1.35"/>
<path d="M596.2,1192.1v9M592.0,1192.8l8.4,7.6M592.0,1200.4l8.4,-7.6" fill="none" stroke="#63bb45" stroke-width="1.35"/>
<path d="M638.1,1187.2v9M633.9,1187.9l8.4,7.6M633.9,1195.5l8.4,-7.6" fill="none" stroke="#63bb45" stroke-width="1.35"/>
<path d="M637.2,1207.2v9M633.0,1207.9l8.4,7.6M633.0,1215.5l8.4,-7.6" fill="none" stroke="#63bb45" stroke-width="1.35"/>
<path d="M696.5,1237.2v9M692.3,1237.9l8.4,7.6M692.3,1245.5l8.4,-7.6" fill="none" stroke="#63bb45" stroke-width="1.35"/>
<path d="M514.9,1187.7v9M510.7,1188.4l8.4,7.6M510.7,1196.0l8.4,-7.6" fill="none" stroke="#63bb45" stroke-width="1.35"/>
<path d="M478.1,1172.9v9M473.9,1173.6l8.4,7.6M473.9,1181.2l8.4,-7.6" fill="none" stroke="#63bb45" stroke-width="1.35"/>
<path d="M492.5,1167.1v9M488.3,1167.8l8.4,7.6M488.3,1175.4l8.4,-7.6" fill="none" stroke="#63bb45" stroke-width="1.35"/>
<path d="M338.3,1066.8v9M334.1,1067.5l8.4,7.6M334.1,1075.1l8.4,-7.6" fill="none" stroke="#63bb45" stroke-width="1.35"/>
<path d="M306.2,1043.5v9M302.0,1044.2l8.4,7.6M302.0,1051.8l8.4,-7.6" fill="none" stroke="#63bb45" stroke-width="1.35"/>
<path d="M367.8,1102.0v9M363.6,1102.7l8.4,7.6M363.6,1110.3l8.4,-7.6" fill="none" stroke="#63bb45" stroke-width="1.35"/>
<path d="M363.5,1090.8v9M359.3,1091.5l8.4,7.6M359.3,1099.1l8.4,-7.6" fill="none" stroke="#63bb45" stroke-width="1.35"/>
<path d="M299.1,1067.9v9M294.9,1068.6l8.4,7.6M294.9,1076.2l8.4,-7.6" fill="none" stroke="#63bb45" stroke-width="1.35"/>
<path d="M309.2,1064.2v9M305.0,1064.9l8.4,7.6M305.0,1072.5l8.4,-7.6" fill="none" stroke="#63bb45" stroke-width="1.35"/>
<path d="M351.6,1085.1v9M347.4,1085.8l8.4,7.6M347.4,1093.4l8.4,-7.6" fill="none" stroke="#63bb45" stroke-width="1.35"/>
<path d="M325.9,1084.5v9M321.7,1085.2l8.4,7.6M321.7,1092.8l8.4,-7.6" fill="none" stroke="#63bb45" stroke-width="1.35"/>
<path d="M382.7,1082.1v9M378.5,1082.8l8.4,7.6M378.5,1090.4l8.4,-7.6" fill="none" stroke="#63bb45" stroke-width="1.35"/>
<path d="M347.8,1095.4v9M343.6,1096.1l8.4,7.6M343.6,1103.7l8.4,-7.6" fill="none" stroke="#63bb45" stroke-width="1.35"/>
<path d="M478.4,1114.0v9M474.2,1114.7l8.4,7.6M474.2,1122.3l8.4,-7.6" fill="none" stroke="#63bb45" stroke-width="1.35"/>
<path d="M334.0,1069.7v9M329.8,1070.4l8.4,7.6M329.8,1078.0l8.4,-7.6" fill="none" stroke="#63bb45" stroke-width="1.35"/>
<path d="M316.6,1059.2v9M312.4,1059.9l8.4,7.6M312.4,1067.5l8.4,-7.6" fill="none" stroke="#63bb45" stroke-width="1.35"/>
<path d="M420.8,1112.6v9M416.6,1113.3l8.4,7.6M416.6,1120.9l8.4,-7.6" fill="none" stroke="#63bb45" stroke-width="1.35"/>
<path d="M320.9,1096.4v9M316.7,1097.1l8.4,7.6M316.7,1104.7l8.4,-7.6" fill="none" stroke="#63bb45" stroke-width="1.35"/>
<path d="M344.6,1098.9v9M340.4,1099.6l8.4,7.6M340.4,1107.2l8.4,-7.6" fill="none" stroke="#63bb45" stroke-width="1.35"/>
<path d="M369.7,1092.7v9M365.5,1093.4l8.4,7.6M365.5,1101.0l8.4,-7.6" fill="none" stroke="#63bb45" stroke-width="1.35"/>
<path d="M323.8,1072.4v9M319.6,1073.1l8.4,7.6M319.6,1080.7l8.4,-7.6" fill="none" stroke="#63bb45" stroke-width="1.35"/>
<path d="M392.2,1124.3v9M388.0,1125.0l8.4,7.6M388.0,1132.6l8.4,-7.6" fill="none" stroke="#63bb45" stroke-width="1.35"/>
<path d="M375.7,1094.6v9M371.5,1095.3l8.4,7.6M371.5,1102.9l8.4,-7.6" fill="none" stroke="#63bb45" stroke-width="1.35"/>
<path d="M355.6,1101.7v9M351.4,1102.4l8.4,7.6M351.4,1110.0l8.4,-7.6" fill="none" stroke="#63bb45" stroke-width="1.35"/>
<path d="M395.7,1080.0v9M391.5,1080.7l8.4,7.6M391.5,1088.3l8.4,-7.6" fill="none" stroke="#63bb45" stroke-width="1.35"/>
<path d="M328.4,1097.6v9M324.2,1098.3l8.4,7.6M324.2,1105.9l8.4,-7.6" fill="none" stroke="#63bb45" stroke-width="1.35"/>
<path d="M436.6,1140.9v9M432.4,1141.6l8.4,7.6M432.4,1149.2l8.4,-7.6" fill="none" stroke="#63bb45" stroke-width="1.35"/>
<path d="M401.6,1126.6v9M397.4,1127.3l8.4,7.6M397.4,1134.9l8.4,-7.6" fill="none" stroke="#63bb45" stroke-width="1.35"/>
<path d="M313.2,1023.9v9M309.0,1024.6l8.4,7.6M309.0,1032.2l8.4,-7.6" fill="none" stroke="#63bb45" stroke-width="1.35"/>
<path d="M350.7,1088.6v9M346.5,1089.3l8.4,7.6M346.5,1096.9l8.4,-7.6" fill="none" stroke="#63bb45" stroke-width="1.35"/>
<path d="M360.8,1104.8v9M356.6,1105.5l8.4,7.6M356.6,1113.1l8.4,-7.6" fill="none" stroke="#63bb45" stroke-width="1.35"/>
<path d="M299.6,1077.2v9M295.4,1077.9l8.4,7.6M295.4,1085.5l8.4,-7.6" fill="none" stroke="#63bb45" stroke-width="1.35"/>
<path d="M373.7,1128.2v9M369.5,1128.9l8.4,7.6M369.5,1136.5l8.4,-7.6" fill="none" stroke="#63bb45" stroke-width="1.35"/>
<path d="M436.7,1141.9v9M432.5,1142.6l8.4,7.6M432.5,1150.2l8.4,-7.6" fill="none" stroke="#63bb45" stroke-width="1.35"/>
<path d="M377.1,1076.0v9M372.9,1076.7l8.4,7.6M372.9,1084.3l8.4,-7.6" fill="none" stroke="#63bb45" stroke-width="1.35"/>
<path d="M374.8,1135.4v9M370.6,1136.1l8.4,7.6M370.6,1143.7l8.4,-7.6" fill="none" stroke="#63bb45" stroke-width="1.35"/>
<path d="M461.4,1132.2v9M457.2,1132.9l8.4,7.6M457.2,1140.5l8.4,-7.6" fill="none" stroke="#63bb45" stroke-width="1.35"/>
<path d="M358.6,1096.5v9M354.4,1097.2l8.4,7.6M354.4,1104.8l8.4,-7.6" fill="none" stroke="#63bb45" stroke-width="1.35"/>
<path d="M396.1,1117.3v9M391.9,1118.0l8.4,7.6M391.9,1125.6l8.4,-7.6" fill="none" stroke="#63bb45" stroke-width="1.35"/>
<path d="M386.1,1072.3v9M381.9,1073.0l8.4,7.6M381.9,1080.6l8.4,-7.6" fill="none" stroke="#63bb45" stroke-width="1.35"/>
<path d="M333.3,1081.5v9M329.1,1082.2l8.4,7.6M329.1,1089.8l8.4,-7.6" fill="none" stroke="#63bb45" stroke-width="1.35"/>
<path d="M346.4,1088.7v9M342.2,1089.4l8.4,7.6M342.2,1097.0l8.4,-7.6" fill="none" stroke="#63bb45" stroke-width="1.35"/>
<path d="M356.8,1095.6v9M352.6,1096.3l8.4,7.6M352.6,1103.9l8.4,-7.6" fill="none" stroke="#63bb45" stroke-width="1.35"/>
<path d="M319.4,1067.7v9M315.2,1068.4l8.4,7.6M315.2,1076.0l8.4,-7.6" fill="none" stroke="#63bb45" stroke-width="1.35"/>
<path d="M409.8,1113.9v9M405.6,1114.6l8.4,7.6M405.6,1122.2l8.4,-7.6" fill="none" stroke="#63bb45" stroke-width="1.35"/>
<path d="M314.7,1069.7v9M310.5,1070.4l8.4,7.6M310.5,1078.0l8.4,-7.6" fill="none" stroke="#63bb45" stroke-width="1.35"/>
<path d="M435.5,1111.7v9M431.3,1112.4l8.4,7.6M431.3,1120.0l8.4,-7.6" fill="none" stroke="#63bb45" stroke-width="1.35"/>
<path d="M307.6,1088.4v9M303.4,1089.1l8.4,7.6M303.4,1096.7l8.4,-7.6" fill="none" stroke="#63bb45" stroke-width="1.35"/>
<path d="M439.1,1124.5v9M434.9,1125.2l8.4,7.6M434.9,1132.8l8.4,-7.6" fill="none" stroke="#63bb45" stroke-width="1.35"/>
<path d="M421.6,1113.9v9M417.4,1114.6l8.4,7.6M417.4,1122.2l8.4,-7.6" fill="none" stroke="#63bb45" stroke-width="1.35"/>
<path d="M350.4,1100.2v9M346.2,1100.9l8.4,7.6M346.2,1108.5l8.4,-7.6" fill="none" stroke="#63bb45" stroke-width="1.35"/>
<path d="M342.8,1050.0v9M338.6,1050.7l8.4,7.6M338.6,1058.3l8.4,-7.6" fill="none" stroke="#63bb45" stroke-width="1.35"/>
<path d="M317.4,1102.5v9M313.2,1103.2l8.4,7.6M313.2,1110.8l8.4,-7.6" fill="none" stroke="#63bb45" stroke-width="1.35"/>
<path d="M320.4,1071.5v9M316.2,1072.2l8.4,7.6M316.2,1079.8l8.4,-7.6" fill="none" stroke="#63bb45" stroke-width="1.35"/>
<path d="M360.2,1080.4v9M356.0,1081.1l8.4,7.6M356.0,1088.7l8.4,-7.6" fill="none" stroke="#63bb45" stroke-width="1.35"/>
<path d="M376.3,1102.1v9M372.1,1102.8l8.4,7.6M372.1,1110.4l8.4,-7.6" fill="none" stroke="#63bb45" stroke-width="1.35"/>
<path d="M350.9,1087.4v9M346.7,1088.1l8.4,7.6M346.7,1095.7l8.4,-7.6" fill="none" stroke="#63bb45" stroke-width="1.35"/>
<path d="M344.2,1127.7v9M340.0,1128.4l8.4,7.6M340.0,1136.0l8.4,-7.6" fill="none" stroke="#63bb45" stroke-width="1.35"/>
<path d="M394.0,1129.3v9M389.8,1130.0l8.4,7.6M389.8,1137.6l8.4,-7.6" fill="none" stroke="#63bb45" stroke-width="1.35"/>
<path d="M364.7,1116.8v9M360.5,1117.5l8.4,7.6M360.5,1125.1l8.4,-7.6" fill="none" stroke="#63bb45" stroke-width="1.35"/>
<path d="M302.8,1082.3v9M298.6,1083.0l8.4,7.6M298.6,1090.6l8.4,-7.6" fill="none" stroke="#63bb45" stroke-width="1.35"/>
<path d="M444.2,1127.1v9M440.0,1127.8l8.4,7.6M440.0,1135.4l8.4,-7.6" fill="none" stroke="#63bb45" stroke-width="1.35"/>
<path d="M416.4,1158.5v9M412.2,1159.2l8.4,7.6M412.2,1166.8l8.4,-7.6" fill="none" stroke="#63bb45" stroke-width="1.35"/>
<path d="M347.2,1094.2v9M343.0,1094.9l8.4,7.6M343.0,1102.5l8.4,-7.6" fill="none" stroke="#63bb45" stroke-width="1.35"/>
<path d="M383.9,1100.6v9M379.7,1101.3l8.4,7.6M379.7,1108.9l8.4,-7.6" fill="none" stroke="#63bb45" stroke-width="1.35"/>
<path d="M249.5,1031.4l4.3,4.3l-4.3,4.3l-4.3,-4.3z" fill="none" stroke="#6cba4f" stroke-width="1.25"/>
<path d="M248.1,1049.1l4.3,4.3l-4.3,4.3l-4.3,-4.3z" fill="none" stroke="#6cba4f" stroke-width="1.25"/>
<path d="M271.6,1052.6l4.3,4.3l-4.3,4.3l-4.3,-4.3z" fill="none" stroke="#6cba4f" stroke-width="1.25"/>
<path d="M253.9,1062.3l4.3,4.3l-4.3,4.3l-4.3,-4.3z" fill="none" stroke="#6cba4f" stroke-width="1.25"/>
<path d="M268.1,1072.9l4.3,4.3l-4.3,4.3l-4.3,-4.3z" fill="none" stroke="#6cba4f" stroke-width="1.25"/>
<path d="M270.7,1081.8l4.3,4.3l-4.3,4.3l-4.3,-4.3z" fill="none" stroke="#6cba4f" stroke-width="1.25"/>
<path d="M274.3,1088.0l4.3,4.3l-4.3,4.3l-4.3,-4.3z" fill="none" stroke="#6cba4f" stroke-width="1.25"/>
<path d="M276.0,1091.5l4.3,4.3l-4.3,4.3l-4.3,-4.3z" fill="none" stroke="#6cba4f" stroke-width="1.25"/>
<path d="M307.0,1034.9l4.3,4.3l-4.3,4.3l-4.3,-4.3z" fill="none" stroke="#6cba4f" stroke-width="1.25"/>
<path d="M324.3,1034.0l4.3,4.3l-4.3,4.3l-4.3,-4.3z" fill="none" stroke="#6cba4f" stroke-width="1.25"/>
<path d="M313.2,1042.0l4.3,4.3l-4.3,4.3l-4.3,-4.3z" fill="none" stroke="#6cba4f" stroke-width="1.25"/>
<path d="M301.7,1057.9l4.3,4.3l-4.3,4.3l-4.3,-4.3z" fill="none" stroke="#6cba4f" stroke-width="1.25"/>
<path d="M299.0,1061.4l4.3,4.3l-4.3,4.3l-4.3,-4.3z" fill="none" stroke="#6cba4f" stroke-width="1.25"/>
<path d="M304.3,1065.0l4.3,4.3l-4.3,4.3l-4.3,-4.3z" fill="none" stroke="#6cba4f" stroke-width="1.25"/>
<path d="M314.9,1066.7l4.3,4.3l-4.3,4.3l-4.3,-4.3z" fill="none" stroke="#6cba4f" stroke-width="1.25"/>
<path d="M320.2,1070.3l4.3,4.3l-4.3,4.3l-4.3,-4.3z" fill="none" stroke="#6cba4f" stroke-width="1.25"/>
<path d="M334.4,1066.7l4.3,4.3l-4.3,4.3l-4.3,-4.3z" fill="none" stroke="#6cba4f" stroke-width="1.25"/>
<path d="M343.2,1061.4l4.3,4.3l-4.3,4.3l-4.3,-4.3z" fill="none" stroke="#6cba4f" stroke-width="1.25"/>
<path d="M346.7,1066.7l4.3,4.3l-4.3,4.3l-4.3,-4.3z" fill="none" stroke="#6cba4f" stroke-width="1.25"/>
<path d="M314.9,1084.4l4.3,4.3l-4.3,4.3l-4.3,-4.3z" fill="none" stroke="#6cba4f" stroke-width="1.25"/>
<path d="M320.2,1089.7l4.3,4.3l-4.3,4.3l-4.3,-4.3z" fill="none" stroke="#6cba4f" stroke-width="1.25"/>
<path d="M300.8,1110.1l4.3,4.3l-4.3,4.3l-4.3,-4.3z" fill="none" stroke="#6cba4f" stroke-width="1.25"/>
<path d="M323.8,1102.1l4.3,4.3l-4.3,4.3l-4.3,-4.3z" fill="none" stroke="#6cba4f" stroke-width="1.25"/>
<path d="M337.9,1111.8l4.3,4.3l-4.3,4.3l-4.3,-4.3z" fill="none" stroke="#6cba4f" stroke-width="1.25"/>
<path d="M375.0,1061.4l4.3,4.3l-4.3,4.3l-4.3,-4.3z" fill="none" stroke="#6cba4f" stroke-width="1.25"/>
<path d="M373.3,1068.5l4.3,4.3l-4.3,4.3l-4.3,-4.3z" fill="none" stroke="#6cba4f" stroke-width="1.25"/>
<path d="M376.8,1084.4l4.3,4.3l-4.3,4.3l-4.3,-4.3z" fill="none" stroke="#6cba4f" stroke-width="1.25"/>
<path d="M376.8,1112.7l4.3,4.3l-4.3,4.3l-4.3,-4.3z" fill="none" stroke="#6cba4f" stroke-width="1.25"/>
<path d="M473.7,1053.9l4.3,4.3l-4.3,4.3l-4.3,-4.3z" fill="none" stroke="#6cba4f" stroke-width="1.25"/>
<path d="M426.9,1061.0l4.3,4.3l-4.3,4.3l-4.3,-4.3z" fill="none" stroke="#6cba4f" stroke-width="1.25"/>
<path d="M445.1,1072.5l4.3,4.3l-4.3,4.3l-4.3,-4.3z" fill="none" stroke="#6cba4f" stroke-width="1.25"/>
<path d="M521.4,1083.4l4.3,4.3l-4.3,4.3l-4.3,-4.3z" fill="none" stroke="#6cba4f" stroke-width="1.25"/>
<path d="M399.4,1079.9l4.3,4.3l-4.3,4.3l-4.3,-4.3z" fill="none" stroke="#6cba4f" stroke-width="1.25"/>
<path d="M409.2,1077.2l4.3,4.3l-4.3,4.3l-4.3,-4.3z" fill="none" stroke="#6cba4f" stroke-width="1.25"/>
<path d="M422.4,1086.1l4.3,4.3l-4.3,4.3l-4.3,-4.3z" fill="none" stroke="#6cba4f" stroke-width="1.25"/>
<path d="M390.6,1083.4l4.3,4.3l-4.3,4.3l-4.3,-4.3z" fill="none" stroke="#6cba4f" stroke-width="1.25"/>
<path d="M395.9,1091.4l4.3,4.3l-4.3,4.3l-4.3,-4.3z" fill="none" stroke="#6cba4f" stroke-width="1.25"/>
<path d="M420.7,1106.4l4.3,4.3l-4.3,4.3l-4.3,-4.3z" fill="none" stroke="#6cba4f" stroke-width="1.25"/>
<path d="M394.1,1102.9l4.3,4.3l-4.3,4.3l-4.3,-4.3z" fill="none" stroke="#6cba4f" stroke-width="1.25"/>
<path d="M428.6,1117.9l4.3,4.3l-4.3,4.3l-4.3,-4.3z" fill="none" stroke="#6cba4f" stroke-width="1.25"/>
<path d="M439.2,1107.3l4.3,4.3l-4.3,4.3l-4.3,-4.3z" fill="none" stroke="#6cba4f" stroke-width="1.25"/>
<path d="M453.4,1121.4l4.3,4.3l-4.3,4.3l-4.3,-4.3z" fill="none" stroke="#6cba4f" stroke-width="1.25"/>
<path d="M457.8,1124.1l4.3,4.3l-4.3,4.3l-4.3,-4.3z" fill="none" stroke="#6cba4f" stroke-width="1.25"/>
<path d="M470.2,1132.1l4.3,4.3l-4.3,4.3l-4.3,-4.3z" fill="none" stroke="#6cba4f" stroke-width="1.25"/>
<path d="M441.9,1131.2l4.3,4.3l-4.3,4.3l-4.3,-4.3z" fill="none" stroke="#6cba4f" stroke-width="1.25"/>
<path d="M479.0,1125.9l4.3,4.3l-4.3,4.3l-4.3,-4.3z" fill="none" stroke="#6cba4f" stroke-width="1.25"/>
<path d="M498.5,1122.3l4.3,4.3l-4.3,4.3l-4.3,-4.3z" fill="none" stroke="#6cba4f" stroke-width="1.25"/>
<path d="M505.5,1118.8l4.3,4.3l-4.3,4.3l-4.3,-4.3z" fill="none" stroke="#6cba4f" stroke-width="1.25"/>
<path d="M525.0,1136.5l4.3,4.3l-4.3,4.3l-4.3,-4.3z" fill="none" stroke="#6cba4f" stroke-width="1.25"/>
<path d="M535.6,1134.7l4.3,4.3l-4.3,4.3l-4.3,-4.3z" fill="none" stroke="#6cba4f" stroke-width="1.25"/>
<path d="M540.0,1133.8l4.3,4.3l-4.3,4.3l-4.3,-4.3z" fill="none" stroke="#6cba4f" stroke-width="1.25"/>
<path d="M509.1,1134.7l4.3,4.3l-4.3,4.3l-4.3,-4.3z" fill="none" stroke="#6cba4f" stroke-width="1.25"/>
<path d="M495.8,1146.2l4.3,4.3l-4.3,4.3l-4.3,-4.3z" fill="none" stroke="#6cba4f" stroke-width="1.25"/>
<path d="M471.9,1151.5l4.3,4.3l-4.3,4.3l-4.3,-4.3z" fill="none" stroke="#6cba4f" stroke-width="1.25"/>
<path d="M532.1,1148.0l4.3,4.3l-4.3,4.3l-4.3,-4.3z" fill="none" stroke="#6cba4f" stroke-width="1.25"/>
<path d="M546.2,1156.8l4.3,4.3l-4.3,4.3l-4.3,-4.3z" fill="none" stroke="#6cba4f" stroke-width="1.25"/>
<path d="M555.0,1146.7l4.3,4.3l-4.3,4.3l-4.3,-4.3z" fill="none" stroke="#6cba4f" stroke-width="1.25"/>
<path d="M396.8,1139.1l4.3,4.3l-4.3,4.3l-4.3,-4.3z" fill="none" stroke="#6cba4f" stroke-width="1.25"/>
<path d="M385.3,1143.6l4.3,4.3l-4.3,4.3l-4.3,-4.3z" fill="none" stroke="#6cba4f" stroke-width="1.25"/>
<path d="M392.4,1141.8l4.3,4.3l-4.3,4.3l-4.3,-4.3z" fill="none" stroke="#6cba4f" stroke-width="1.25"/>
<path d="M540.0,1134.0l4.3,4.3l-4.3,4.3l-4.3,-4.3z" fill="none" stroke="#6cba4f" stroke-width="1.25"/>
<path d="M555.0,1146.7l4.3,4.3l-4.3,4.3l-4.3,-4.3z" fill="none" stroke="#6cba4f" stroke-width="1.25"/>
<path d="M561.6,1148.1l4.3,4.3l-4.3,4.3l-4.3,-4.3z" fill="none" stroke="#6cba4f" stroke-width="1.25"/>
<path d="M546.2,1157.0l4.3,4.3l-4.3,4.3l-4.3,-4.3z" fill="none" stroke="#6cba4f" stroke-width="1.25"/>
<path d="M579.8,1167.1l4.3,4.3l-4.3,4.3l-4.3,-4.3z" fill="none" stroke="#6cba4f" stroke-width="1.25"/>
<path d="M577.5,1176.4l4.3,4.3l-4.3,4.3l-4.3,-4.3z" fill="none" stroke="#6cba4f" stroke-width="1.25"/>
<path d="M621.3,1172.9l4.3,4.3l-4.3,4.3l-4.3,-4.3z" fill="none" stroke="#6cba4f" stroke-width="1.25"/>
<path d="M285.0,1037.1l4.3,4.3l-4.3,4.3l-4.3,-4.3z" fill="none" stroke="#6cba4f" stroke-width="1.25"/>
<path d="M300.9,1051.0l4.3,4.3l-4.3,4.3l-4.3,-4.3z" fill="none" stroke="#6cba4f" stroke-width="1.25"/>
<path d="M321.4,1066.1l4.3,4.3l-4.3,4.3l-4.3,-4.3z" fill="none" stroke="#6cba4f" stroke-width="1.25"/>
<path d="M299.5,1054.3l4.3,4.3l-4.3,4.3l-4.3,-4.3z" fill="none" stroke="#6cba4f" stroke-width="1.25"/>
<path d="M292.2,1052.6l4.3,4.3l-4.3,4.3l-4.3,-4.3z" fill="none" stroke="#6cba4f" stroke-width="1.25"/>
<path d="M409.6,1108.4l4.3,4.3l-4.3,4.3l-4.3,-4.3z" fill="none" stroke="#6cba4f" stroke-width="1.25"/>
<path d="M358.2,1078.9l4.3,4.3l-4.3,4.3l-4.3,-4.3z" fill="none" stroke="#6cba4f" stroke-width="1.25"/>
<path d="M322.3,1057.8l4.3,4.3l-4.3,4.3l-4.3,-4.3z" fill="none" stroke="#6cba4f" stroke-width="1.25"/>
<path d="M324.3,1047.2l4.3,4.3l-4.3,4.3l-4.3,-4.3z" fill="none" stroke="#6cba4f" stroke-width="1.25"/>
<path d="M461.9,1114.7l4.3,4.3l-4.3,4.3l-4.3,-4.3z" fill="none" stroke="#6cba4f" stroke-width="1.25"/>
<path d="M337.1,1081.0l4.3,4.3l-4.3,4.3l-4.3,-4.3z" fill="none" stroke="#6cba4f" stroke-width="1.25"/>
<path d="M292.3,1049.8l4.3,4.3l-4.3,4.3l-4.3,-4.3z" fill="none" stroke="#6cba4f" stroke-width="1.25"/>
<path d="M321.7,1069.1l4.3,4.3l-4.3,4.3l-4.3,-4.3z" fill="none" stroke="#6cba4f" stroke-width="1.25"/>
<path d="M300.8,1027.4l4.3,4.3l-4.3,4.3l-4.3,-4.3z" fill="none" stroke="#6cba4f" stroke-width="1.25"/>
<path d="M274.9,1024.1l4.3,4.3l-4.3,4.3l-4.3,-4.3z" fill="none" stroke="#6cba4f" stroke-width="1.25"/>
<path d="M298.8,1059.6l4.3,4.3l-4.3,4.3l-4.3,-4.3z" fill="none" stroke="#6cba4f" stroke-width="1.25"/>
<path d="M347.7,1062.3l4.3,4.3l-4.3,4.3l-4.3,-4.3z" fill="none" stroke="#6cba4f" stroke-width="1.25"/>
<path d="M449.7,1126.3l4.3,4.3l-4.3,4.3l-4.3,-4.3z" fill="none" stroke="#6cba4f" stroke-width="1.25"/>
<path d="M406.7,1113.4l4.3,4.3l-4.3,4.3l-4.3,-4.3z" fill="none" stroke="#6cba4f" stroke-width="1.25"/>
<path d="M324.6,1079.0l4.3,4.3l-4.3,4.3l-4.3,-4.3z" fill="none" stroke="#6cba4f" stroke-width="1.25"/>
<path d="M301.5,1053.0l4.3,4.3l-4.3,4.3l-4.3,-4.3z" fill="none" stroke="#6cba4f" stroke-width="1.25"/>
<path d="M387.4,1118.3l4.3,4.3l-4.3,4.3l-4.3,-4.3z" fill="none" stroke="#6cba4f" stroke-width="1.25"/>
<path d="M320.2,1061.2l4.3,4.3l-4.3,4.3l-4.3,-4.3z" fill="none" stroke="#6cba4f" stroke-width="1.25"/>
<path d="M454.3,1104.7l4.3,4.3l-4.3,4.3l-4.3,-4.3z" fill="none" stroke="#6cba4f" stroke-width="1.25"/>
<path d="M404.0,1098.7l4.3,4.3l-4.3,4.3l-4.3,-4.3z" fill="none" stroke="#6cba4f" stroke-width="1.25"/>
<path d="M379.7,1122.2l4.3,4.3l-4.3,4.3l-4.3,-4.3z" fill="none" stroke="#6cba4f" stroke-width="1.25"/>
<path d="M308.5,1073.2l4.3,4.3l-4.3,4.3l-4.3,-4.3z" fill="none" stroke="#6cba4f" stroke-width="1.25"/>
<path d="M276.8,1043.2l4.3,4.3l-4.3,4.3l-4.3,-4.3z" fill="none" stroke="#6cba4f" stroke-width="1.25"/>
<path d="M276.4,1043.6l4.3,4.3l-4.3,4.3l-4.3,-4.3z" fill="none" stroke="#6cba4f" stroke-width="1.25"/>
<path d="M371.1,1080.8l4.3,4.3l-4.3,4.3l-4.3,-4.3z" fill="none" stroke="#6cba4f" stroke-width="1.25"/>
<path d="M437.7,1157.0l4.3,4.3l-4.3,4.3l-4.3,-4.3z" fill="none" stroke="#6cba4f" stroke-width="1.25"/>
<path d="M456.8,1121.2l4.3,4.3l-4.3,4.3l-4.3,-4.3z" fill="none" stroke="#6cba4f" stroke-width="1.25"/>
<path d="M437.0,1130.6l4.3,4.3l-4.3,4.3l-4.3,-4.3z" fill="none" stroke="#6cba4f" stroke-width="1.25"/>
<path d="M308.5,1051.5l4.3,4.3l-4.3,4.3l-4.3,-4.3z" fill="none" stroke="#6cba4f" stroke-width="1.25"/>
<path d="M305.1,1051.7l4.3,4.3l-4.3,4.3l-4.3,-4.3z" fill="none" stroke="#6cba4f" stroke-width="1.25"/>
<path d="M417.1,1094.5l4.3,4.3l-4.3,4.3l-4.3,-4.3z" fill="none" stroke="#6cba4f" stroke-width="1.25"/>
<path d="M401.0,1128.2l4.3,4.3l-4.3,4.3l-4.3,-4.3z" fill="none" stroke="#6cba4f" stroke-width="1.25"/>
<path d="M391.7,1099.5l4.3,4.3l-4.3,4.3l-4.3,-4.3z" fill="none" stroke="#6cba4f" stroke-width="1.25"/>
<path d="M289.3,1066.1l4.3,4.3l-4.3,4.3l-4.3,-4.3z" fill="none" stroke="#6cba4f" stroke-width="1.25"/>
<path d="M388.0,1128.1l4.3,4.3l-4.3,4.3l-4.3,-4.3z" fill="none" stroke="#6cba4f" stroke-width="1.25"/>
<path d="M381.6,1106.6l4.3,4.3l-4.3,4.3l-4.3,-4.3z" fill="none" stroke="#6cba4f" stroke-width="1.25"/>
<path d="M389.4,1099.9l4.3,4.3l-4.3,4.3l-4.3,-4.3z" fill="none" stroke="#6cba4f" stroke-width="1.25"/>
<path d="M320.5,1053.5l4.3,4.3l-4.3,4.3l-4.3,-4.3z" fill="none" stroke="#6cba4f" stroke-width="1.25"/>
<path d="M328.2,1107.7l4.3,4.3l-4.3,4.3l-4.3,-4.3z" fill="none" stroke="#6cba4f" stroke-width="1.25"/>
<path d="M328.9,1047.8l4.3,4.3l-4.3,4.3l-4.3,-4.3z" fill="none" stroke="#6cba4f" stroke-width="1.25"/>
</g>
<rect x="204.4" y="1024.7" width="656.4" height="260.1" fill="none" stroke="#111" stroke-width="1.2"/>
<path d="M204.40,1284.8v5M313.80,1284.8v5M423.20,1284.8v5M532.60,1284.8v5M642.00,1284.8v5M751.40,1284.8v5M860.80,1284.8v5M204.4,1024.70h-5M204.4,1061.86h-5M204.4,1099.01h-5M204.4,1136.17h-5M204.4,1173.33h-5M204.4,1210.49h-5M204.4,1247.64h-5M204.4,1284.80h-5" stroke="#111" stroke-width="1.2" fill="none"/>
<text x="191" y="1028.6" font-size="15.3" text-anchor="end" fill="#222">1.2</text>
<text x="191" y="1065.8" font-size="15.3" text-anchor="end" fill="#222">1.1</text>
<text x="191" y="1102.9" font-size="15.3" text-anchor="end" fill="#222">1.0</text>
<text x="191" y="1140.1" font-size="15.3" text-anchor="end" fill="#222">0.9</text>
<text x="191" y="1177.2" font-size="15.3" text-anchor="end" fill="#222">0.8</text>
<text x="191" y="1214.4" font-size="15.3" text-anchor="end" fill="#222">0.7</text>
<text x="191" y="1251.5" font-size="15.3" text-anchor="end" fill="#222">0.6</text>
<text x="191" y="1288.7" font-size="15.3" text-anchor="end" fill="#222">0.5</text>
<text x="204.4" y="1307.6" font-size="15.3" text-anchor="middle" fill="#222">0</text>
<text x="313.8" y="1307.6" font-size="15.3" text-anchor="middle" fill="#222">20</text>
<text x="423.2" y="1307.6" font-size="15.3" text-anchor="middle" fill="#222">40</text>
<text x="532.6" y="1307.6" font-size="15.3" text-anchor="middle" fill="#222">60</text>
<text x="642.0" y="1307.6" font-size="15.3" text-anchor="middle" fill="#222">80</text>
<text x="751.4" y="1307.6" font-size="15.3" text-anchor="middle" fill="#222">100</text>
<text x="860.8" y="1307.6" font-size="15.3" text-anchor="middle" fill="#222">120</text>
<text x="131" y="1323" font-size="23.5" font-weight="bold" fill="#222">b</text>
<text x="792.5" y="1319.6" font-size="17" fill="#222">n<tspan dy="4.5" font-size="12.5">q</tspan><tspan dy="-4.5"> [-]</tspan></text>
<text transform="translate(148,1175) rotate(-90)" font-size="16" fill="#222">ψ<tspan dy="4" font-size="12">opt</tspan><tspan dy="-4" font-size="14.8"> [-]</tspan></text>
<path d="M652,1043.3H685" stroke="#a845aa" stroke-width="1.8"/>
<path d="M652,1060.3H685" stroke="#333" stroke-width="0.8"/>
<path d="M668.5,1073.5l3.3,3.3l-3.3,3.3l-3.3,-3.3z" fill="none" stroke="#34327f" stroke-width="1.3"/>
<rect x="665.2" y="1090.5" width="6.6" height="6.6" fill="none" stroke="#c8482f" stroke-width="1.2"/>
<path d="M668.5,1107.1l3.4,6.0h-6.8z" fill="none" stroke="#b055b5" stroke-width="1.1"/>
<circle cx="668.5" cy="1127.7" r="3.4" fill="none" stroke="#3c4c9c" stroke-width="1.2"/>
<path d="M668.5,1139.8v9M664.3,1140.5l8.4,7.6M664.3,1148.1l8.4,-7.6" fill="none" stroke="#63bb45" stroke-width="1.35"/>
<path d="M668.5,1157.0l4.3,4.3l-4.3,4.3l-4.3,-4.3z" fill="none" stroke="#6cba4f" stroke-width="1.25"/>
<text x="691.5" y="1047.5" font-size="15.3" fill="#222">Eq. (3.26) with fT = 1.0</text>
<text x="691.5" y="1064.5" font-size="15.3" fill="#222">Eq. (3.26) with fT = 1.1</text>
<text x="691.5" y="1081.0" font-size="15.3" fill="#222">M1</text>
<text x="691.5" y="1098.0" font-size="15.3" fill="#222">M2</text>
<text x="691.5" y="1114.9" font-size="15.3" fill="#222">M3</text>
<text x="691.5" y="1131.9" font-size="15.3" fill="#222">M4</text>
<text x="691.5" y="1148.5" font-size="15.3" fill="#222">M5</text>
<text x="691.5" y="1165.5" font-size="15.3" fill="#222">M6</text>
</svg>
<div class="cap" style="top:1352px;"><b>Fig. 3.24</b></div>
<div class="cap" style="top:1352px;left:212.5px;width:680px;text-align:justify;text-align-last:justify;">Pressure coefficients: <b>a</b> general tendencies (values for hub according to [<a class="b">19</a>]); <b>b</b> ψ<sub class="s" style="font-size:12.5px;top:4px;">opt</sub> for</div>
<div class="cap" style="top:1374.6px;width:484px;text-align:justify;text-align-last:justify;">single-stage volute pumps from various pump manufacturers</div>

<svg width="1018" height="1541" viewBox="0 0 1018 1541">
<defs><linearGradient id="wg" gradientUnits="userSpaceOnUse" x1="0" y1="1400" x2="0" y2="1530"><stop offset="0.5108" stop-color="#fff"/><stop offset="0.5108" stop-color="#69abce"/></linearGradient></defs>
<polygon points="74.3,1394.3 80.9,1424.3 96.5,1397.8 93.6,1428.4 116.6,1408.1 104.4,1436.2 132.5,1424.0 112.2,1447.0 142.8,1444.1 116.3,1459.7 146.3,1466.3 116.3,1472.9 142.8,1488.5 112.2,1485.6 132.5,1508.6 104.4,1496.4 116.6,1524.5 93.6,1504.2 96.5,1534.8 80.9,1508.3 74.3,1538.3 67.7,1508.3 52.1,1534.8 55.0,1504.2 32.0,1524.5 44.2,1496.4 16.1,1508.6 36.4,1485.6 5.8,1488.5 32.3,1472.9 2.3,1466.3 32.3,1459.7 5.8,1444.1 36.4,1447.0 16.1,1424.0 44.2,1436.2 32.0,1408.1 55.0,1428.4 52.1,1397.8 67.7,1424.3" fill="#69abce"/>
<path d="M33.9,1466.3A40.4,40 0 0 1 114.7,1466.3Z" fill="#fff"/>
<text x="168" y="1501.2" font-size="111" font-weight="bold" textLength="823" lengthAdjust="spacingAndGlyphs" fill="#69abce" stroke="#69abce" stroke-width="8" stroke-linejoin="round" style="font-family:'Liberation Serif',serif">SEATRACKER.RU</text>
<text x="168" y="1501.2" font-size="111" font-weight="bold" textLength="823" lengthAdjust="spacingAndGlyphs" fill="url(#wg)" stroke="url(#wg)" stroke-width="1.2" stroke-linejoin="round" style="font-family:'Liberation Serif',serif">SEATRACKER.RU</text>
</svg>
</body></html>
